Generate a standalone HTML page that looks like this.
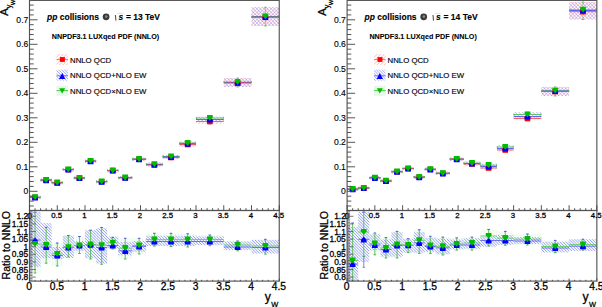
<!DOCTYPE html><html><head><meta charset="utf-8"><style>html,body{margin:0;padding:0;background:#fff;overflow:hidden}svg{display:block}text{stroke:#000;stroke-width:0.28px}text{font-family:"Liberation Sans",sans-serif}</style></head><body>
<svg width="602" height="307" viewBox="0 0 602 307">
<defs>
<pattern id="hr" patternUnits="userSpaceOnUse" width="2.5" height="2.5" patternTransform="rotate(45)"><line x1="0" y1="0" x2="0" y2="2.5" stroke="#f77" stroke-width="0.8"/></pattern>
<pattern id="hb" patternUnits="userSpaceOnUse" width="2.05" height="2.05" patternTransform="rotate(-45)"><line x1="0" y1="0" x2="0" y2="2.05" stroke="#6b6bff" stroke-width="0.9"/></pattern>
<pattern id="hb2" patternUnits="userSpaceOnUse" width="2.5" height="2.5" patternTransform="rotate(-45)"><line x1="0" y1="0" x2="0" y2="2.5" stroke="#77f" stroke-width="0.8"/></pattern>
<pattern id="hg" patternUnits="userSpaceOnUse" width="3" height="3"><rect width="3" height="3" fill="#f6fcf6"/><line x1="1.5" y1="0" x2="1.5" y2="3" stroke="#eaf7ea" stroke-width="0.8"/></pattern>
<filter id="gs"><feColorMatrix type="saturate" values="0"/></filter>
</defs>
<rect width="602" height="307" fill="#fff"/>
<g transform="translate(0,0)">
<clipPath id="ctL"><rect x="29.5" y="0.4" width="249.75" height="210.1"/></clipPath>
<clipPath id="cbL"><rect x="29.5" y="210.5" width="249.75" height="70.60000000000002"/></clipPath>
<g clip-path="url(#ctL)">
<rect x="29.5" y="195.5" width="11.1" height="4" fill="url(#hr)" />
<rect x="29.5" y="195.5" width="11.1" height="4" fill="url(#hb2)" />
<rect x="40.6" y="178.5" width="11.1" height="3.5" fill="url(#hr)" />
<rect x="40.6" y="178.5" width="11.1" height="3.5" fill="url(#hb2)" />
<rect x="51.7" y="181" width="11.1" height="3.5" fill="url(#hr)" />
<rect x="51.7" y="181" width="11.1" height="3.5" fill="url(#hb2)" />
<rect x="62.8" y="168" width="11.1" height="3.5" fill="url(#hr)" />
<rect x="62.8" y="168" width="11.1" height="3.5" fill="url(#hb2)" />
<rect x="73.9" y="176.5" width="11.1" height="3" fill="url(#hr)" />
<rect x="73.9" y="176.5" width="11.1" height="3" fill="url(#hb2)" />
<rect x="85" y="159.5" width="11.1" height="3.5" fill="url(#hr)" />
<rect x="85" y="159.5" width="11.1" height="3.5" fill="url(#hb2)" />
<rect x="96.1" y="180" width="11.1" height="3.5" fill="url(#hr)" />
<rect x="96.1" y="180" width="11.1" height="3.5" fill="url(#hb2)" />
<rect x="107.2" y="169" width="11.1" height="3.5" fill="url(#hr)" />
<rect x="107.2" y="169" width="11.1" height="3.5" fill="url(#hb2)" />
<rect x="118.3" y="176" width="13.88" height="3.5" fill="url(#hr)" />
<rect x="118.3" y="176" width="13.88" height="3.5" fill="url(#hb2)" />
<rect x="132.18" y="157.5" width="13.88" height="3.5" fill="url(#hr)" />
<rect x="132.18" y="157.5" width="13.88" height="3.5" fill="url(#hb2)" />
<rect x="146.05" y="162.5" width="16.65" height="4" fill="url(#hr)" />
<rect x="146.05" y="162.5" width="16.65" height="4" fill="url(#hb2)" />
<rect x="162.7" y="155" width="16.65" height="4" fill="url(#hr)" />
<rect x="162.7" y="155" width="16.65" height="4" fill="url(#hb2)" />
<rect x="179.35" y="141.5" width="16.65" height="5" fill="url(#hr)" />
<rect x="179.35" y="141.5" width="16.65" height="5" fill="url(#hb2)" />
<rect x="196" y="120" width="27.75" height="4" fill="url(#hr)" />
<rect x="196" y="116.5" width="27.75" height="4.5" fill="url(#hb2)" />
<rect x="223.75" y="78" width="27.75" height="9" fill="url(#hr)" />
<rect x="223.75" y="78" width="27.75" height="9" fill="url(#hb2)" />
<rect x="251.5" y="7.2" width="27.75" height="18.8" fill="url(#hr)" />
<rect x="251.5" y="7.2" width="27.75" height="18.8" fill="url(#hb2)" />
<line x1="29.5" y1="197.3" x2="40.6" y2="197.3" stroke="#4b4" stroke-width="0.8" />
<line x1="29.5" y1="197.3" x2="40.6" y2="197.3" stroke="#44e" stroke-width="0.8" />
<line x1="29.5" y1="197.3" x2="40.6" y2="197.3" stroke="#e44" stroke-width="0.8" />
<line x1="29.9" y1="196.3" x2="29.9" y2="198.3" stroke="#4b4" stroke-width="0.8" />
<line x1="40.2" y1="196.3" x2="40.2" y2="198.3" stroke="#4b4" stroke-width="0.8" />
<line x1="35.05" y1="195.5" x2="35.05" y2="199.5" stroke="#6c6" stroke-width="0.7" />
<line x1="33.85" y1="195.5" x2="36.25" y2="195.5" stroke="#4a4" stroke-width="0.7" />
<line x1="33.85" y1="199.5" x2="36.25" y2="199.5" stroke="#4a4" stroke-width="0.7" />
<rect x="32.25" y="194.7" width="5.6" height="5.4" fill="#f00" />
<polygon points="32.2,200.4 37.9,200.4 37.9,198 35.05,194.6 32.2,198" fill="#00f"/>
<polygon points="32.2,194.2 37.9,194.2 37.9,196.6 35.05,200 32.2,196.6" fill="#0b0"/>
<line x1="40.6" y1="180.1" x2="51.7" y2="180.1" stroke="#4b4" stroke-width="0.8" />
<line x1="40.6" y1="180.1" x2="51.7" y2="180.1" stroke="#44e" stroke-width="0.8" />
<line x1="40.6" y1="180.1" x2="51.7" y2="180.1" stroke="#e44" stroke-width="0.8" />
<line x1="41" y1="179.1" x2="41" y2="181.1" stroke="#4b4" stroke-width="0.8" />
<line x1="51.3" y1="179.1" x2="51.3" y2="181.1" stroke="#4b4" stroke-width="0.8" />
<line x1="46.15" y1="178.5" x2="46.15" y2="182" stroke="#6c6" stroke-width="0.7" />
<line x1="44.95" y1="178.5" x2="47.35" y2="178.5" stroke="#4a4" stroke-width="0.7" />
<line x1="44.95" y1="182" x2="47.35" y2="182" stroke="#4a4" stroke-width="0.7" />
<rect x="43.35" y="177.5" width="5.6" height="5.4" fill="#f00" />
<polygon points="43.3,183.2 49,183.2 49,180.8 46.15,177.4 43.3,180.8" fill="#00f"/>
<polygon points="43.3,177 49,177 49,179.4 46.15,182.8 43.3,179.4" fill="#0b0"/>
<line x1="51.7" y1="182.7" x2="62.8" y2="182.7" stroke="#4b4" stroke-width="0.8" />
<line x1="51.7" y1="182.7" x2="62.8" y2="182.7" stroke="#44e" stroke-width="0.8" />
<line x1="51.7" y1="182.7" x2="62.8" y2="182.7" stroke="#e44" stroke-width="0.8" />
<line x1="52.1" y1="181.7" x2="52.1" y2="183.7" stroke="#4b4" stroke-width="0.8" />
<line x1="62.4" y1="181.7" x2="62.4" y2="183.7" stroke="#4b4" stroke-width="0.8" />
<line x1="57.25" y1="181" x2="57.25" y2="184.5" stroke="#6c6" stroke-width="0.7" />
<line x1="56.05" y1="181" x2="58.45" y2="181" stroke="#4a4" stroke-width="0.7" />
<line x1="56.05" y1="184.5" x2="58.45" y2="184.5" stroke="#4a4" stroke-width="0.7" />
<rect x="54.45" y="180.1" width="5.6" height="5.4" fill="#f00" />
<polygon points="54.4,185.8 60.1,185.8 60.1,183.4 57.25,180 54.4,183.4" fill="#00f"/>
<polygon points="54.4,179.6 60.1,179.6 60.1,182 57.25,185.4 54.4,182" fill="#0b0"/>
<line x1="62.8" y1="169.5" x2="73.9" y2="169.5" stroke="#4b4" stroke-width="0.8" />
<line x1="62.8" y1="169.5" x2="73.9" y2="169.5" stroke="#44e" stroke-width="0.8" />
<line x1="62.8" y1="169.5" x2="73.9" y2="169.5" stroke="#e44" stroke-width="0.8" />
<line x1="63.2" y1="168.5" x2="63.2" y2="170.5" stroke="#4b4" stroke-width="0.8" />
<line x1="73.5" y1="168.5" x2="73.5" y2="170.5" stroke="#4b4" stroke-width="0.8" />
<line x1="68.35" y1="168" x2="68.35" y2="171.5" stroke="#6c6" stroke-width="0.7" />
<line x1="67.15" y1="168" x2="69.55" y2="168" stroke="#4a4" stroke-width="0.7" />
<line x1="67.15" y1="171.5" x2="69.55" y2="171.5" stroke="#4a4" stroke-width="0.7" />
<rect x="65.55" y="166.9" width="5.6" height="5.4" fill="#f00" />
<polygon points="65.5,172.6 71.2,172.6 71.2,170.2 68.35,166.8 65.5,170.2" fill="#00f"/>
<polygon points="65.5,166.4 71.2,166.4 71.2,168.8 68.35,172.2 65.5,168.8" fill="#0b0"/>
<line x1="73.9" y1="178" x2="85" y2="178" stroke="#4b4" stroke-width="0.8" />
<line x1="73.9" y1="178" x2="85" y2="178" stroke="#44e" stroke-width="0.8" />
<line x1="73.9" y1="178" x2="85" y2="178" stroke="#e44" stroke-width="0.8" />
<line x1="74.3" y1="177" x2="74.3" y2="179" stroke="#4b4" stroke-width="0.8" />
<line x1="84.6" y1="177" x2="84.6" y2="179" stroke="#4b4" stroke-width="0.8" />
<line x1="79.45" y1="176.5" x2="79.45" y2="179.5" stroke="#6c6" stroke-width="0.7" />
<line x1="78.25" y1="176.5" x2="80.65" y2="176.5" stroke="#4a4" stroke-width="0.7" />
<line x1="78.25" y1="179.5" x2="80.65" y2="179.5" stroke="#4a4" stroke-width="0.7" />
<rect x="76.65" y="175.4" width="5.6" height="5.4" fill="#f00" />
<polygon points="76.6,181.1 82.3,181.1 82.3,178.7 79.45,175.3 76.6,178.7" fill="#00f"/>
<polygon points="76.6,174.9 82.3,174.9 82.3,177.3 79.45,180.7 76.6,177.3" fill="#0b0"/>
<line x1="85" y1="161.1" x2="96.1" y2="161.1" stroke="#4b4" stroke-width="0.8" />
<line x1="85" y1="161.1" x2="96.1" y2="161.1" stroke="#44e" stroke-width="0.8" />
<line x1="85" y1="161.1" x2="96.1" y2="161.1" stroke="#e44" stroke-width="0.8" />
<line x1="85.4" y1="160.1" x2="85.4" y2="162.1" stroke="#4b4" stroke-width="0.8" />
<line x1="95.7" y1="160.1" x2="95.7" y2="162.1" stroke="#4b4" stroke-width="0.8" />
<line x1="90.55" y1="159.5" x2="90.55" y2="163" stroke="#6c6" stroke-width="0.7" />
<line x1="89.35" y1="159.5" x2="91.75" y2="159.5" stroke="#4a4" stroke-width="0.7" />
<line x1="89.35" y1="163" x2="91.75" y2="163" stroke="#4a4" stroke-width="0.7" />
<rect x="87.75" y="158.5" width="5.6" height="5.4" fill="#f00" />
<polygon points="87.7,164.2 93.4,164.2 93.4,161.8 90.55,158.4 87.7,161.8" fill="#00f"/>
<polygon points="87.7,158 93.4,158 93.4,160.4 90.55,163.8 87.7,160.4" fill="#0b0"/>
<line x1="96.1" y1="181.6" x2="107.2" y2="181.6" stroke="#4b4" stroke-width="0.8" />
<line x1="96.1" y1="181.6" x2="107.2" y2="181.6" stroke="#44e" stroke-width="0.8" />
<line x1="96.1" y1="181.6" x2="107.2" y2="181.6" stroke="#e44" stroke-width="0.8" />
<line x1="96.5" y1="180.6" x2="96.5" y2="182.6" stroke="#4b4" stroke-width="0.8" />
<line x1="106.8" y1="180.6" x2="106.8" y2="182.6" stroke="#4b4" stroke-width="0.8" />
<line x1="101.65" y1="180" x2="101.65" y2="183.5" stroke="#6c6" stroke-width="0.7" />
<line x1="100.45" y1="180" x2="102.85" y2="180" stroke="#4a4" stroke-width="0.7" />
<line x1="100.45" y1="183.5" x2="102.85" y2="183.5" stroke="#4a4" stroke-width="0.7" />
<rect x="98.85" y="179" width="5.6" height="5.4" fill="#f00" />
<polygon points="98.8,184.7 104.5,184.7 104.5,182.3 101.65,178.9 98.8,182.3" fill="#00f"/>
<polygon points="98.8,178.5 104.5,178.5 104.5,180.9 101.65,184.3 98.8,180.9" fill="#0b0"/>
<line x1="107.2" y1="170.5" x2="118.3" y2="170.5" stroke="#4b4" stroke-width="0.8" />
<line x1="107.2" y1="170.5" x2="118.3" y2="170.5" stroke="#44e" stroke-width="0.8" />
<line x1="107.2" y1="170.5" x2="118.3" y2="170.5" stroke="#e44" stroke-width="0.8" />
<line x1="107.6" y1="169.5" x2="107.6" y2="171.5" stroke="#4b4" stroke-width="0.8" />
<line x1="117.9" y1="169.5" x2="117.9" y2="171.5" stroke="#4b4" stroke-width="0.8" />
<line x1="112.75" y1="169" x2="112.75" y2="172.5" stroke="#6c6" stroke-width="0.7" />
<line x1="111.55" y1="169" x2="113.95" y2="169" stroke="#4a4" stroke-width="0.7" />
<line x1="111.55" y1="172.5" x2="113.95" y2="172.5" stroke="#4a4" stroke-width="0.7" />
<rect x="109.95" y="167.9" width="5.6" height="5.4" fill="#f00" />
<polygon points="109.9,173.6 115.6,173.6 115.6,171.2 112.75,167.8 109.9,171.2" fill="#00f"/>
<polygon points="109.9,167.4 115.6,167.4 115.6,169.8 112.75,173.2 109.9,169.8" fill="#0b0"/>
<line x1="118.3" y1="177.7" x2="132.18" y2="177.7" stroke="#4b4" stroke-width="0.8" />
<line x1="118.3" y1="177.7" x2="132.18" y2="177.7" stroke="#44e" stroke-width="0.8" />
<line x1="118.3" y1="177.7" x2="132.18" y2="177.7" stroke="#e44" stroke-width="0.8" />
<line x1="118.7" y1="176.7" x2="118.7" y2="178.7" stroke="#4b4" stroke-width="0.8" />
<line x1="131.78" y1="176.7" x2="131.78" y2="178.7" stroke="#4b4" stroke-width="0.8" />
<line x1="125.24" y1="176" x2="125.24" y2="179.5" stroke="#6c6" stroke-width="0.7" />
<line x1="124.04" y1="176" x2="126.44" y2="176" stroke="#4a4" stroke-width="0.7" />
<line x1="124.04" y1="179.5" x2="126.44" y2="179.5" stroke="#4a4" stroke-width="0.7" />
<rect x="122.44" y="175.1" width="5.6" height="5.4" fill="#f00" />
<polygon points="122.39,180.8 128.09,180.8 128.09,178.4 125.24,175 122.39,178.4" fill="#00f"/>
<polygon points="122.39,174.6 128.09,174.6 128.09,177 125.24,180.4 122.39,177" fill="#0b0"/>
<line x1="132.18" y1="159.2" x2="146.05" y2="159.2" stroke="#4b4" stroke-width="0.8" />
<line x1="132.18" y1="159.2" x2="146.05" y2="159.2" stroke="#44e" stroke-width="0.8" />
<line x1="132.18" y1="159.2" x2="146.05" y2="159.2" stroke="#e44" stroke-width="0.8" />
<line x1="132.58" y1="158.2" x2="132.58" y2="160.2" stroke="#4b4" stroke-width="0.8" />
<line x1="145.65" y1="158.2" x2="145.65" y2="160.2" stroke="#4b4" stroke-width="0.8" />
<line x1="139.11" y1="157.5" x2="139.11" y2="161" stroke="#6c6" stroke-width="0.7" />
<line x1="137.91" y1="157.5" x2="140.31" y2="157.5" stroke="#4a4" stroke-width="0.7" />
<line x1="137.91" y1="161" x2="140.31" y2="161" stroke="#4a4" stroke-width="0.7" />
<rect x="136.31" y="156.6" width="5.6" height="5.4" fill="#f00" />
<polygon points="136.26,162.3 141.96,162.3 141.96,159.9 139.11,156.5 136.26,159.9" fill="#00f"/>
<polygon points="136.26,156.1 141.96,156.1 141.96,158.5 139.11,161.9 136.26,158.5" fill="#0b0"/>
<line x1="146.05" y1="164.3" x2="162.7" y2="164.3" stroke="#4b4" stroke-width="0.8" />
<line x1="146.05" y1="164.5" x2="162.7" y2="164.5" stroke="#44e" stroke-width="0.8" />
<line x1="146.05" y1="165" x2="162.7" y2="165" stroke="#e44" stroke-width="0.8" />
<line x1="146.45" y1="163.3" x2="146.45" y2="165.3" stroke="#4b4" stroke-width="0.8" />
<line x1="162.3" y1="163.3" x2="162.3" y2="165.3" stroke="#4b4" stroke-width="0.8" />
<line x1="154.38" y1="162.5" x2="154.38" y2="166.5" stroke="#6c6" stroke-width="0.7" />
<line x1="153.18" y1="162.5" x2="155.57" y2="162.5" stroke="#4a4" stroke-width="0.7" />
<line x1="153.18" y1="166.5" x2="155.57" y2="166.5" stroke="#4a4" stroke-width="0.7" />
<rect x="151.57" y="162.4" width="5.6" height="5.4" fill="#f00" />
<polygon points="151.53,167.6 157.22,167.6 157.22,165.2 154.38,161.8 151.53,165.2" fill="#00f"/>
<polygon points="151.53,161.2 157.22,161.2 157.22,163.6 154.38,167 151.53,163.6" fill="#0b0"/>
<line x1="162.7" y1="156.5" x2="179.35" y2="156.5" stroke="#4b4" stroke-width="0.8" />
<line x1="162.7" y1="156.8" x2="179.35" y2="156.8" stroke="#44e" stroke-width="0.8" />
<line x1="162.7" y1="157.5" x2="179.35" y2="157.5" stroke="#e44" stroke-width="0.8" />
<line x1="163.1" y1="155.5" x2="163.1" y2="157.5" stroke="#4b4" stroke-width="0.8" />
<line x1="178.95" y1="155.5" x2="178.95" y2="157.5" stroke="#4b4" stroke-width="0.8" />
<line x1="171.03" y1="155" x2="171.03" y2="159" stroke="#6c6" stroke-width="0.7" />
<line x1="169.83" y1="155" x2="172.22" y2="155" stroke="#4a4" stroke-width="0.7" />
<line x1="169.83" y1="159" x2="172.22" y2="159" stroke="#4a4" stroke-width="0.7" />
<rect x="168.22" y="154.9" width="5.6" height="5.4" fill="#f00" />
<polygon points="168.18,159.9 173.88,159.9 173.88,157.5 171.03,154.1 168.18,157.5" fill="#00f"/>
<polygon points="168.18,153.4 173.88,153.4 173.88,155.8 171.03,159.2 168.18,155.8" fill="#0b0"/>
<line x1="179.35" y1="143.2" x2="196" y2="143.2" stroke="#4b4" stroke-width="0.8" />
<line x1="179.35" y1="143.7" x2="196" y2="143.7" stroke="#44e" stroke-width="0.8" />
<line x1="179.35" y1="144.5" x2="196" y2="144.5" stroke="#e44" stroke-width="0.8" />
<line x1="179.75" y1="142.2" x2="179.75" y2="144.2" stroke="#4b4" stroke-width="0.8" />
<line x1="195.6" y1="142.2" x2="195.6" y2="144.2" stroke="#4b4" stroke-width="0.8" />
<line x1="187.68" y1="141.5" x2="187.68" y2="146.5" stroke="#6c6" stroke-width="0.7" />
<line x1="186.48" y1="141.5" x2="188.88" y2="141.5" stroke="#4a4" stroke-width="0.7" />
<line x1="186.48" y1="146.5" x2="188.88" y2="146.5" stroke="#4a4" stroke-width="0.7" />
<rect x="184.88" y="141.9" width="5.6" height="5.4" fill="#f00" />
<polygon points="184.83,146.8 190.53,146.8 190.53,144.4 187.68,141 184.83,144.4" fill="#00f"/>
<polygon points="184.83,140.1 190.53,140.1 190.53,142.5 187.68,145.9 184.83,142.5" fill="#0b0"/>
<line x1="196" y1="118" x2="223.75" y2="118" stroke="#4b4" stroke-width="0.8" />
<line x1="196" y1="119.5" x2="223.75" y2="119.5" stroke="#44e" stroke-width="0.8" />
<line x1="196" y1="121.5" x2="223.75" y2="121.5" stroke="#e44" stroke-width="0.8" />
<line x1="196.4" y1="117" x2="196.4" y2="119" stroke="#4b4" stroke-width="0.8" />
<line x1="223.35" y1="117" x2="223.35" y2="119" stroke="#4b4" stroke-width="0.8" />
<line x1="209.88" y1="116.5" x2="209.88" y2="124" stroke="#6c6" stroke-width="0.7" />
<line x1="208.68" y1="116.5" x2="211.07" y2="116.5" stroke="#4a4" stroke-width="0.7" />
<line x1="208.68" y1="124" x2="211.07" y2="124" stroke="#4a4" stroke-width="0.7" />
<rect x="207.07" y="118.9" width="5.6" height="5.4" fill="#f00" />
<polygon points="207.03,122.6 212.72,122.6 212.72,120.2 209.88,116.8 207.03,120.2" fill="#00f"/>
<polygon points="207.03,114.9 212.72,114.9 212.72,117.3 209.88,120.7 207.03,117.3" fill="#0b0"/>
<line x1="223.75" y1="82" x2="251.5" y2="82" stroke="#4b4" stroke-width="0.8" />
<line x1="223.75" y1="82.6" x2="251.5" y2="82.6" stroke="#44e" stroke-width="0.8" />
<line x1="223.75" y1="83" x2="251.5" y2="83" stroke="#e44" stroke-width="0.8" />
<line x1="224.15" y1="81" x2="224.15" y2="83" stroke="#4b4" stroke-width="0.8" />
<line x1="251.1" y1="81" x2="251.1" y2="83" stroke="#4b4" stroke-width="0.8" />
<line x1="237.62" y1="78" x2="237.62" y2="87" stroke="#6c6" stroke-width="0.7" />
<line x1="236.43" y1="78" x2="238.82" y2="78" stroke="#4a4" stroke-width="0.7" />
<line x1="236.43" y1="87" x2="238.82" y2="87" stroke="#4a4" stroke-width="0.7" />
<rect x="234.82" y="80.4" width="5.6" height="5.4" fill="#f00" />
<polygon points="234.78,85.7 240.47,85.7 240.47,83.3 237.62,79.9 234.78,83.3" fill="#00f"/>
<polygon points="234.78,78.9 240.47,78.9 240.47,81.3 237.62,84.7 234.78,81.3" fill="#0b0"/>
<line x1="251.5" y1="16.5" x2="279.25" y2="16.5" stroke="#4b4" stroke-width="0.8" />
<line x1="251.5" y1="16.9" x2="279.25" y2="16.9" stroke="#44e" stroke-width="0.8" />
<line x1="251.5" y1="17.3" x2="279.25" y2="17.3" stroke="#e44" stroke-width="0.8" />
<line x1="251.9" y1="15.5" x2="251.9" y2="17.5" stroke="#4b4" stroke-width="0.8" />
<line x1="278.85" y1="15.5" x2="278.85" y2="17.5" stroke="#4b4" stroke-width="0.8" />
<line x1="265.38" y1="7.2" x2="265.38" y2="26" stroke="#6c6" stroke-width="0.7" />
<line x1="264.18" y1="7.2" x2="266.57" y2="7.2" stroke="#4a4" stroke-width="0.7" />
<line x1="264.18" y1="26" x2="266.57" y2="26" stroke="#4a4" stroke-width="0.7" />
<rect x="262.57" y="14.7" width="5.6" height="5.4" fill="#f00" />
<polygon points="262.52,20 268.23,20 268.23,17.6 265.38,14.2 262.52,17.6" fill="#00f"/>
<polygon points="262.52,13.4 268.23,13.4 268.23,15.8 265.38,19.2 262.52,15.8" fill="#0b0"/>
</g>
<g clip-path="url(#cbL)">
<rect x="29.5" y="212" width="11.1" height="61" fill="url(#hg)" />
<rect x="29.5" y="212" width="11.1" height="54.9" fill="url(#hb)" />
<rect x="40.6" y="227.3" width="11.1" height="35.9" fill="url(#hg)" />
<rect x="40.6" y="223" width="11.1" height="35.2" fill="url(#hb)" />
<rect x="51.7" y="243" width="11.1" height="23" fill="url(#hg)" />
<rect x="51.7" y="247" width="11.1" height="12" fill="url(#hb)" />
<rect x="62.8" y="235.6" width="11.1" height="21.4" fill="url(#hg)" />
<rect x="62.8" y="235.6" width="11.1" height="22.4" fill="url(#hb)" />
<rect x="73.9" y="236.5" width="11.1" height="17" fill="url(#hg)" />
<rect x="73.9" y="241" width="11.1" height="9.8" fill="url(#hb)" />
<rect x="85" y="230.2" width="11.1" height="28.8" fill="url(#hg)" />
<rect x="85" y="230.2" width="11.1" height="27.8" fill="url(#hb)" />
<rect x="96.1" y="227.5" width="11.1" height="36.8" fill="url(#hg)" />
<rect x="96.1" y="228.4" width="11.1" height="35" fill="url(#hb)" />
<rect x="107.2" y="237.4" width="11.1" height="11.6" fill="url(#hg)" />
<rect x="107.2" y="236.5" width="11.1" height="11.7" fill="url(#hb)" />
<rect x="118.3" y="238.3" width="13.88" height="20.7" fill="url(#hg)" />
<rect x="118.3" y="241.9" width="13.88" height="13.4" fill="url(#hb)" />
<rect x="132.18" y="238.3" width="13.88" height="15.7" fill="url(#hg)" />
<rect x="132.18" y="241" width="13.88" height="10.7" fill="url(#hb)" />
<rect x="146.05" y="233.3" width="16.65" height="12.7" fill="url(#hg)" />
<rect x="146.05" y="235.8" width="16.65" height="10.2" fill="url(#hb)" />
<rect x="162.7" y="233.3" width="16.65" height="13.2" fill="url(#hg)" />
<rect x="162.7" y="235.8" width="16.65" height="10.2" fill="url(#hb)" />
<rect x="179.35" y="233.8" width="16.65" height="13.2" fill="url(#hg)" />
<rect x="179.35" y="235.8" width="16.65" height="10.2" fill="url(#hb)" />
<rect x="196" y="235" width="27.75" height="10.7" fill="url(#hg)" />
<rect x="196" y="236.5" width="27.75" height="8.5" fill="url(#hb)" />
<rect x="223.75" y="241" width="27.75" height="9.8" fill="url(#hg)" />
<rect x="223.75" y="241.4" width="27.75" height="8.5" fill="url(#hb)" />
<rect x="251.5" y="239.3" width="27.75" height="14.8" fill="url(#hg)" />
<rect x="251.5" y="240" width="27.75" height="13.4" fill="url(#hb)" />
<line x1="29.5" y1="240" x2="40.6" y2="240" stroke="#55e" stroke-width="0.8" />
<line x1="29.5" y1="244" x2="40.6" y2="244" stroke="#5c5" stroke-width="0.8" />
<line x1="35.05" y1="212" x2="35.05" y2="273" stroke="#5b5" stroke-width="0.9" />
<line x1="33.75" y1="212" x2="36.35" y2="212" stroke="#44c" stroke-width="0.9" />
<line x1="33.75" y1="273" x2="36.35" y2="273" stroke="#4a4" stroke-width="0.9" />
<polygon points="32.2,243.1 37.9,243.1 37.9,240.7 35.05,237.3 32.2,240.7" fill="#00f"/>
<polygon points="32.2,240.9 37.9,240.9 37.9,243.3 35.05,246.7 32.2,243.3" fill="#0b0"/>
<line x1="40.6" y1="247" x2="51.7" y2="247" stroke="#55e" stroke-width="0.8" />
<line x1="40.6" y1="245" x2="51.7" y2="245" stroke="#5c5" stroke-width="0.8" />
<line x1="46.15" y1="227.3" x2="46.15" y2="263.2" stroke="#5b5" stroke-width="0.9" />
<line x1="44.85" y1="227.3" x2="47.45" y2="227.3" stroke="#44c" stroke-width="0.9" />
<line x1="44.85" y1="263.2" x2="47.45" y2="263.2" stroke="#4a4" stroke-width="0.9" />
<polygon points="43.3,250.1 49,250.1 49,247.7 46.15,244.3 43.3,247.7" fill="#00f"/>
<polygon points="43.3,241.9 49,241.9 49,244.3 46.15,247.7 43.3,244.3" fill="#0b0"/>
<line x1="51.7" y1="255.5" x2="62.8" y2="255.5" stroke="#55e" stroke-width="0.8" />
<line x1="51.7" y1="254" x2="62.8" y2="254" stroke="#5c5" stroke-width="0.8" />
<line x1="57.25" y1="243" x2="57.25" y2="266" stroke="#5b5" stroke-width="0.9" />
<line x1="55.95" y1="243" x2="58.55" y2="243" stroke="#44c" stroke-width="0.9" />
<line x1="55.95" y1="266" x2="58.55" y2="266" stroke="#4a4" stroke-width="0.9" />
<polygon points="54.4,258.6 60.1,258.6 60.1,256.2 57.25,252.8 54.4,256.2" fill="#00f"/>
<polygon points="54.4,250.9 60.1,250.9 60.1,253.3 57.25,256.7 54.4,253.3" fill="#0b0"/>
<line x1="62.8" y1="247.3" x2="73.9" y2="247.3" stroke="#55e" stroke-width="0.8" />
<line x1="62.8" y1="247.3" x2="73.9" y2="247.3" stroke="#5c5" stroke-width="0.8" />
<line x1="68.35" y1="235.6" x2="68.35" y2="257" stroke="#5b5" stroke-width="0.9" />
<line x1="67.05" y1="235.6" x2="69.65" y2="235.6" stroke="#44c" stroke-width="0.9" />
<line x1="67.05" y1="257" x2="69.65" y2="257" stroke="#4a4" stroke-width="0.9" />
<polygon points="65.5,250.4 71.2,250.4 71.2,248 68.35,244.6 65.5,248" fill="#00f"/>
<polygon points="65.5,244.2 71.2,244.2 71.2,246.6 68.35,250 65.5,246.6" fill="#0b0"/>
<line x1="73.9" y1="245.5" x2="85" y2="245.5" stroke="#55e" stroke-width="0.8" />
<line x1="73.9" y1="245.5" x2="85" y2="245.5" stroke="#5c5" stroke-width="0.8" />
<line x1="79.45" y1="236.5" x2="79.45" y2="253.5" stroke="#5b5" stroke-width="0.9" />
<line x1="78.15" y1="236.5" x2="80.75" y2="236.5" stroke="#44c" stroke-width="0.9" />
<line x1="78.15" y1="253.5" x2="80.75" y2="253.5" stroke="#4a4" stroke-width="0.9" />
<polygon points="76.6,248.6 82.3,248.6 82.3,246.2 79.45,242.8 76.6,246.2" fill="#00f"/>
<polygon points="76.6,242.4 82.3,242.4 82.3,244.8 79.45,248.2 76.6,244.8" fill="#0b0"/>
<line x1="85" y1="244.6" x2="96.1" y2="244.6" stroke="#55e" stroke-width="0.8" />
<line x1="85" y1="244.6" x2="96.1" y2="244.6" stroke="#5c5" stroke-width="0.8" />
<line x1="90.55" y1="230.2" x2="90.55" y2="259" stroke="#5b5" stroke-width="0.9" />
<line x1="89.25" y1="230.2" x2="91.85" y2="230.2" stroke="#44c" stroke-width="0.9" />
<line x1="89.25" y1="259" x2="91.85" y2="259" stroke="#4a4" stroke-width="0.9" />
<polygon points="87.7,247.7 93.4,247.7 93.4,245.3 90.55,241.9 87.7,245.3" fill="#00f"/>
<polygon points="87.7,241.5 93.4,241.5 93.4,243.9 90.55,247.3 87.7,243.9" fill="#0b0"/>
<line x1="96.1" y1="247.5" x2="107.2" y2="247.5" stroke="#55e" stroke-width="0.8" />
<line x1="96.1" y1="245.3" x2="107.2" y2="245.3" stroke="#5c5" stroke-width="0.8" />
<line x1="101.65" y1="227.5" x2="101.65" y2="264.3" stroke="#5b5" stroke-width="0.9" />
<line x1="100.35" y1="227.5" x2="102.95" y2="227.5" stroke="#44c" stroke-width="0.9" />
<line x1="100.35" y1="264.3" x2="102.95" y2="264.3" stroke="#4a4" stroke-width="0.9" />
<polygon points="98.8,250.6 104.5,250.6 104.5,248.2 101.65,244.8 98.8,248.2" fill="#00f"/>
<polygon points="98.8,242.2 104.5,242.2 104.5,244.6 101.65,248 98.8,244.6" fill="#0b0"/>
<line x1="107.2" y1="245.5" x2="118.3" y2="245.5" stroke="#55e" stroke-width="0.8" />
<line x1="107.2" y1="242.8" x2="118.3" y2="242.8" stroke="#5c5" stroke-width="0.8" />
<line x1="112.75" y1="237.4" x2="112.75" y2="249" stroke="#5b5" stroke-width="0.9" />
<line x1="111.45" y1="237.4" x2="114.05" y2="237.4" stroke="#44c" stroke-width="0.9" />
<line x1="111.45" y1="249" x2="114.05" y2="249" stroke="#4a4" stroke-width="0.9" />
<polygon points="109.9,248.6 115.6,248.6 115.6,246.2 112.75,242.8 109.9,246.2" fill="#00f"/>
<polygon points="109.9,239.7 115.6,239.7 115.6,242.1 112.75,245.5 109.9,242.1" fill="#0b0"/>
<line x1="118.3" y1="250.8" x2="132.18" y2="250.8" stroke="#55e" stroke-width="0.8" />
<line x1="118.3" y1="248.2" x2="132.18" y2="248.2" stroke="#5c5" stroke-width="0.8" />
<line x1="125.24" y1="238.3" x2="125.24" y2="259" stroke="#5b5" stroke-width="0.9" />
<line x1="123.94" y1="238.3" x2="126.54" y2="238.3" stroke="#44c" stroke-width="0.9" />
<line x1="123.94" y1="259" x2="126.54" y2="259" stroke="#4a4" stroke-width="0.9" />
<polygon points="122.39,253.9 128.09,253.9 128.09,251.5 125.24,248.1 122.39,251.5" fill="#00f"/>
<polygon points="122.39,245.1 128.09,245.1 128.09,247.5 125.24,250.9 122.39,247.5" fill="#0b0"/>
<line x1="132.18" y1="246.4" x2="146.05" y2="246.4" stroke="#55e" stroke-width="0.8" />
<line x1="132.18" y1="245.5" x2="146.05" y2="245.5" stroke="#5c5" stroke-width="0.8" />
<line x1="139.11" y1="238.3" x2="139.11" y2="254" stroke="#5b5" stroke-width="0.9" />
<line x1="137.81" y1="238.3" x2="140.41" y2="238.3" stroke="#44c" stroke-width="0.9" />
<line x1="137.81" y1="254" x2="140.41" y2="254" stroke="#4a4" stroke-width="0.9" />
<polygon points="136.26,249.5 141.96,249.5 141.96,247.1 139.11,243.7 136.26,247.1" fill="#00f"/>
<polygon points="136.26,242.4 141.96,242.4 141.96,244.8 139.11,248.2 136.26,244.8" fill="#0b0"/>
<line x1="146.05" y1="241.5" x2="162.7" y2="241.5" stroke="#55e" stroke-width="0.8" />
<line x1="146.05" y1="239.6" x2="162.7" y2="239.6" stroke="#5c5" stroke-width="0.8" />
<line x1="154.38" y1="233.3" x2="154.38" y2="246" stroke="#5b5" stroke-width="0.9" />
<line x1="153.07" y1="233.3" x2="155.68" y2="233.3" stroke="#44c" stroke-width="0.9" />
<line x1="153.07" y1="246" x2="155.68" y2="246" stroke="#4a4" stroke-width="0.9" />
<polygon points="151.53,244.6 157.22,244.6 157.22,242.2 154.38,238.8 151.53,242.2" fill="#00f"/>
<polygon points="151.53,236.5 157.22,236.5 157.22,238.9 154.38,242.3 151.53,238.9" fill="#0b0"/>
<line x1="162.7" y1="241.5" x2="179.35" y2="241.5" stroke="#55e" stroke-width="0.8" />
<line x1="162.7" y1="239.6" x2="179.35" y2="239.6" stroke="#5c5" stroke-width="0.8" />
<line x1="171.03" y1="233.3" x2="171.03" y2="246.5" stroke="#5b5" stroke-width="0.9" />
<line x1="169.72" y1="233.3" x2="172.33" y2="233.3" stroke="#44c" stroke-width="0.9" />
<line x1="169.72" y1="246.5" x2="172.33" y2="246.5" stroke="#4a4" stroke-width="0.9" />
<polygon points="168.18,244.6 173.88,244.6 173.88,242.2 171.03,238.8 168.18,242.2" fill="#00f"/>
<polygon points="168.18,236.5 173.88,236.5 173.88,238.9 171.03,242.3 168.18,238.9" fill="#0b0"/>
<line x1="179.35" y1="241.5" x2="196" y2="241.5" stroke="#55e" stroke-width="0.8" />
<line x1="179.35" y1="239.6" x2="196" y2="239.6" stroke="#5c5" stroke-width="0.8" />
<line x1="187.68" y1="233.8" x2="187.68" y2="247" stroke="#5b5" stroke-width="0.9" />
<line x1="186.38" y1="233.8" x2="188.98" y2="233.8" stroke="#44c" stroke-width="0.9" />
<line x1="186.38" y1="247" x2="188.98" y2="247" stroke="#4a4" stroke-width="0.9" />
<polygon points="184.83,244.6 190.53,244.6 190.53,242.2 187.68,238.8 184.83,242.2" fill="#00f"/>
<polygon points="184.83,236.5 190.53,236.5 190.53,238.9 187.68,242.3 184.83,238.9" fill="#0b0"/>
<line x1="196" y1="241.5" x2="223.75" y2="241.5" stroke="#55e" stroke-width="0.8" />
<line x1="196" y1="239.5" x2="223.75" y2="239.5" stroke="#5c5" stroke-width="0.8" />
<line x1="209.88" y1="235" x2="209.88" y2="245.7" stroke="#5b5" stroke-width="0.9" />
<line x1="208.57" y1="235" x2="211.18" y2="235" stroke="#44c" stroke-width="0.9" />
<line x1="208.57" y1="245.7" x2="211.18" y2="245.7" stroke="#4a4" stroke-width="0.9" />
<polygon points="207.03,244.6 212.72,244.6 212.72,242.2 209.88,238.8 207.03,242.2" fill="#00f"/>
<polygon points="207.03,236.4 212.72,236.4 212.72,238.8 209.88,242.2 207.03,238.8" fill="#0b0"/>
<line x1="223.75" y1="247" x2="251.5" y2="247" stroke="#55e" stroke-width="0.8" />
<line x1="223.75" y1="245" x2="251.5" y2="245" stroke="#5c5" stroke-width="0.8" />
<line x1="237.62" y1="241" x2="237.62" y2="250.8" stroke="#5b5" stroke-width="0.9" />
<line x1="236.32" y1="241" x2="238.93" y2="241" stroke="#44c" stroke-width="0.9" />
<line x1="236.32" y1="250.8" x2="238.93" y2="250.8" stroke="#4a4" stroke-width="0.9" />
<polygon points="234.78,250.1 240.47,250.1 240.47,247.7 237.62,244.3 234.78,247.7" fill="#00f"/>
<polygon points="234.78,241.9 240.47,241.9 240.47,244.3 237.62,247.7 234.78,244.3" fill="#0b0"/>
<line x1="251.5" y1="247.5" x2="279.25" y2="247.5" stroke="#55e" stroke-width="0.8" />
<line x1="251.5" y1="246" x2="279.25" y2="246" stroke="#5c5" stroke-width="0.8" />
<line x1="265.38" y1="239.3" x2="265.38" y2="254.1" stroke="#5b5" stroke-width="0.9" />
<line x1="264.07" y1="239.3" x2="266.68" y2="239.3" stroke="#44c" stroke-width="0.9" />
<line x1="264.07" y1="254.1" x2="266.68" y2="254.1" stroke="#4a4" stroke-width="0.9" />
<polygon points="262.52,250.6 268.23,250.6 268.23,248.2 265.38,244.8 262.52,248.2" fill="#00f"/>
<polygon points="262.52,242.9 268.23,242.9 268.23,245.3 265.38,248.7 262.52,245.3" fill="#0b0"/>
</g>
<rect x="29.5" y="0.4" width="249.75" height="210.1" fill="none" stroke="#555" stroke-width="1.15"/>
<rect x="29.5" y="210.5" width="249.75" height="70.6" fill="none" stroke="#555" stroke-width="1.15"/>
<line x1="29.5" y1="206" x2="33.7" y2="206" stroke="#444" stroke-width="0.9" />
<line x1="29.5" y1="201.1" x2="33.7" y2="201.1" stroke="#444" stroke-width="0.9" />
<line x1="29.5" y1="196.2" x2="33.7" y2="196.2" stroke="#444" stroke-width="0.9" />
<line x1="29.5" y1="191.3" x2="37.5" y2="191.3" stroke="#444" stroke-width="0.9" />
<line x1="29.5" y1="186.4" x2="33.7" y2="186.4" stroke="#444" stroke-width="0.9" />
<line x1="29.5" y1="181.5" x2="33.7" y2="181.5" stroke="#444" stroke-width="0.9" />
<line x1="29.5" y1="176.6" x2="33.7" y2="176.6" stroke="#444" stroke-width="0.9" />
<line x1="29.5" y1="171.7" x2="33.7" y2="171.7" stroke="#444" stroke-width="0.9" />
<line x1="29.5" y1="166.8" x2="37.5" y2="166.8" stroke="#444" stroke-width="0.9" />
<line x1="29.5" y1="161.9" x2="33.7" y2="161.9" stroke="#444" stroke-width="0.9" />
<line x1="29.5" y1="157" x2="33.7" y2="157" stroke="#444" stroke-width="0.9" />
<line x1="29.5" y1="152.1" x2="33.7" y2="152.1" stroke="#444" stroke-width="0.9" />
<line x1="29.5" y1="147.2" x2="33.7" y2="147.2" stroke="#444" stroke-width="0.9" />
<line x1="29.5" y1="142.3" x2="37.5" y2="142.3" stroke="#444" stroke-width="0.9" />
<line x1="29.5" y1="137.4" x2="33.7" y2="137.4" stroke="#444" stroke-width="0.9" />
<line x1="29.5" y1="132.5" x2="33.7" y2="132.5" stroke="#444" stroke-width="0.9" />
<line x1="29.5" y1="127.6" x2="33.7" y2="127.6" stroke="#444" stroke-width="0.9" />
<line x1="29.5" y1="122.7" x2="33.7" y2="122.7" stroke="#444" stroke-width="0.9" />
<line x1="29.5" y1="117.8" x2="37.5" y2="117.8" stroke="#444" stroke-width="0.9" />
<line x1="29.5" y1="112.9" x2="33.7" y2="112.9" stroke="#444" stroke-width="0.9" />
<line x1="29.5" y1="108" x2="33.7" y2="108" stroke="#444" stroke-width="0.9" />
<line x1="29.5" y1="103.1" x2="33.7" y2="103.1" stroke="#444" stroke-width="0.9" />
<line x1="29.5" y1="98.2" x2="33.7" y2="98.2" stroke="#444" stroke-width="0.9" />
<line x1="29.5" y1="93.3" x2="37.5" y2="93.3" stroke="#444" stroke-width="0.9" />
<line x1="29.5" y1="88.4" x2="33.7" y2="88.4" stroke="#444" stroke-width="0.9" />
<line x1="29.5" y1="83.5" x2="33.7" y2="83.5" stroke="#444" stroke-width="0.9" />
<line x1="29.5" y1="78.6" x2="33.7" y2="78.6" stroke="#444" stroke-width="0.9" />
<line x1="29.5" y1="73.7" x2="33.7" y2="73.7" stroke="#444" stroke-width="0.9" />
<line x1="29.5" y1="68.8" x2="37.5" y2="68.8" stroke="#444" stroke-width="0.9" />
<line x1="29.5" y1="63.9" x2="33.7" y2="63.9" stroke="#444" stroke-width="0.9" />
<line x1="29.5" y1="59" x2="33.7" y2="59" stroke="#444" stroke-width="0.9" />
<line x1="29.5" y1="54.1" x2="33.7" y2="54.1" stroke="#444" stroke-width="0.9" />
<line x1="29.5" y1="49.2" x2="33.7" y2="49.2" stroke="#444" stroke-width="0.9" />
<line x1="29.5" y1="44.3" x2="37.5" y2="44.3" stroke="#444" stroke-width="0.9" />
<line x1="29.5" y1="39.4" x2="33.7" y2="39.4" stroke="#444" stroke-width="0.9" />
<line x1="29.5" y1="34.5" x2="33.7" y2="34.5" stroke="#444" stroke-width="0.9" />
<line x1="29.5" y1="29.6" x2="33.7" y2="29.6" stroke="#444" stroke-width="0.9" />
<line x1="29.5" y1="24.7" x2="33.7" y2="24.7" stroke="#444" stroke-width="0.9" />
<line x1="29.5" y1="19.8" x2="37.5" y2="19.8" stroke="#444" stroke-width="0.9" />
<line x1="29.5" y1="14.9" x2="33.7" y2="14.9" stroke="#444" stroke-width="0.9" />
<line x1="29.5" y1="10" x2="33.7" y2="10" stroke="#444" stroke-width="0.9" />
<line x1="29.5" y1="5.1" x2="33.7" y2="5.1" stroke="#444" stroke-width="0.9" />
<text transform="translate(28.3,194.4) scale(1,1.08)" font-size="8.6" text-anchor="end" style="stroke-width:0.12px">0</text>
<text transform="translate(28.3,169.9) scale(1,1.08)" font-size="8.6" text-anchor="end" style="stroke-width:0.12px">0.1</text>
<text transform="translate(28.3,145.4) scale(1,1.08)" font-size="8.6" text-anchor="end" style="stroke-width:0.12px">0.2</text>
<text transform="translate(28.3,120.9) scale(1,1.08)" font-size="8.6" text-anchor="end" style="stroke-width:0.12px">0.3</text>
<text transform="translate(28.3,96.4) scale(1,1.08)" font-size="8.6" text-anchor="end" style="stroke-width:0.12px">0.4</text>
<text transform="translate(28.3,71.9) scale(1,1.08)" font-size="8.6" text-anchor="end" style="stroke-width:0.12px">0.5</text>
<text transform="translate(28.3,47.4) scale(1,1.08)" font-size="8.6" text-anchor="end" style="stroke-width:0.12px">0.6</text>
<text transform="translate(28.3,22.9) scale(1,1.08)" font-size="8.6" text-anchor="end" style="stroke-width:0.12px">0.7</text>
<line x1="29.5" y1="210.5" x2="29.5" y2="205.2" stroke="#444" stroke-width="0.9" />
<line x1="35.05" y1="210.5" x2="35.05" y2="208.2" stroke="#444" stroke-width="0.9" />
<line x1="40.6" y1="210.5" x2="40.6" y2="208.2" stroke="#444" stroke-width="0.9" />
<line x1="46.15" y1="210.5" x2="46.15" y2="208.2" stroke="#444" stroke-width="0.9" />
<line x1="51.7" y1="210.5" x2="51.7" y2="208.2" stroke="#444" stroke-width="0.9" />
<line x1="57.25" y1="210.5" x2="57.25" y2="205.2" stroke="#444" stroke-width="0.9" />
<line x1="62.8" y1="210.5" x2="62.8" y2="208.2" stroke="#444" stroke-width="0.9" />
<line x1="68.35" y1="210.5" x2="68.35" y2="208.2" stroke="#444" stroke-width="0.9" />
<line x1="73.9" y1="210.5" x2="73.9" y2="208.2" stroke="#444" stroke-width="0.9" />
<line x1="79.45" y1="210.5" x2="79.45" y2="208.2" stroke="#444" stroke-width="0.9" />
<line x1="85" y1="210.5" x2="85" y2="205.2" stroke="#444" stroke-width="0.9" />
<line x1="90.55" y1="210.5" x2="90.55" y2="208.2" stroke="#444" stroke-width="0.9" />
<line x1="96.1" y1="210.5" x2="96.1" y2="208.2" stroke="#444" stroke-width="0.9" />
<line x1="101.65" y1="210.5" x2="101.65" y2="208.2" stroke="#444" stroke-width="0.9" />
<line x1="107.2" y1="210.5" x2="107.2" y2="208.2" stroke="#444" stroke-width="0.9" />
<line x1="112.75" y1="210.5" x2="112.75" y2="205.2" stroke="#444" stroke-width="0.9" />
<line x1="118.3" y1="210.5" x2="118.3" y2="208.2" stroke="#444" stroke-width="0.9" />
<line x1="123.85" y1="210.5" x2="123.85" y2="208.2" stroke="#444" stroke-width="0.9" />
<line x1="129.4" y1="210.5" x2="129.4" y2="208.2" stroke="#444" stroke-width="0.9" />
<line x1="134.95" y1="210.5" x2="134.95" y2="208.2" stroke="#444" stroke-width="0.9" />
<line x1="140.5" y1="210.5" x2="140.5" y2="205.2" stroke="#444" stroke-width="0.9" />
<line x1="146.05" y1="210.5" x2="146.05" y2="208.2" stroke="#444" stroke-width="0.9" />
<line x1="151.6" y1="210.5" x2="151.6" y2="208.2" stroke="#444" stroke-width="0.9" />
<line x1="157.15" y1="210.5" x2="157.15" y2="208.2" stroke="#444" stroke-width="0.9" />
<line x1="162.7" y1="210.5" x2="162.7" y2="208.2" stroke="#444" stroke-width="0.9" />
<line x1="168.25" y1="210.5" x2="168.25" y2="205.2" stroke="#444" stroke-width="0.9" />
<line x1="173.8" y1="210.5" x2="173.8" y2="208.2" stroke="#444" stroke-width="0.9" />
<line x1="179.35" y1="210.5" x2="179.35" y2="208.2" stroke="#444" stroke-width="0.9" />
<line x1="184.9" y1="210.5" x2="184.9" y2="208.2" stroke="#444" stroke-width="0.9" />
<line x1="190.45" y1="210.5" x2="190.45" y2="208.2" stroke="#444" stroke-width="0.9" />
<line x1="196" y1="210.5" x2="196" y2="205.2" stroke="#444" stroke-width="0.9" />
<line x1="201.55" y1="210.5" x2="201.55" y2="208.2" stroke="#444" stroke-width="0.9" />
<line x1="207.1" y1="210.5" x2="207.1" y2="208.2" stroke="#444" stroke-width="0.9" />
<line x1="212.65" y1="210.5" x2="212.65" y2="208.2" stroke="#444" stroke-width="0.9" />
<line x1="218.2" y1="210.5" x2="218.2" y2="208.2" stroke="#444" stroke-width="0.9" />
<line x1="223.75" y1="210.5" x2="223.75" y2="205.2" stroke="#444" stroke-width="0.9" />
<line x1="229.3" y1="210.5" x2="229.3" y2="208.2" stroke="#444" stroke-width="0.9" />
<line x1="234.85" y1="210.5" x2="234.85" y2="208.2" stroke="#444" stroke-width="0.9" />
<line x1="240.4" y1="210.5" x2="240.4" y2="208.2" stroke="#444" stroke-width="0.9" />
<line x1="245.95" y1="210.5" x2="245.95" y2="208.2" stroke="#444" stroke-width="0.9" />
<line x1="251.5" y1="210.5" x2="251.5" y2="205.2" stroke="#444" stroke-width="0.9" />
<line x1="257.05" y1="210.5" x2="257.05" y2="208.2" stroke="#444" stroke-width="0.9" />
<line x1="262.6" y1="210.5" x2="262.6" y2="208.2" stroke="#444" stroke-width="0.9" />
<line x1="268.15" y1="210.5" x2="268.15" y2="208.2" stroke="#444" stroke-width="0.9" />
<line x1="273.7" y1="210.5" x2="273.7" y2="208.2" stroke="#444" stroke-width="0.9" />
<line x1="279.25" y1="210.5" x2="279.25" y2="205.2" stroke="#444" stroke-width="0.9" />
<text x="56.65" y="218.1" font-size="7.8" text-anchor="middle" font-weight="normal" font-style="normal" fill="#000" >0.5</text>
<text x="84.4" y="218.1" font-size="7.8" text-anchor="middle" font-weight="normal" font-style="normal" fill="#000" >1</text>
<text x="112.15" y="218.1" font-size="7.8" text-anchor="middle" font-weight="normal" font-style="normal" fill="#000" >1.5</text>
<text x="139.9" y="218.1" font-size="7.8" text-anchor="middle" font-weight="normal" font-style="normal" fill="#000" >2</text>
<text x="167.65" y="218.1" font-size="7.8" text-anchor="middle" font-weight="normal" font-style="normal" fill="#000" >2.5</text>
<text x="195.4" y="218.1" font-size="7.8" text-anchor="middle" font-weight="normal" font-style="normal" fill="#000" >3</text>
<text x="223.15" y="218.1" font-size="7.8" text-anchor="middle" font-weight="normal" font-style="normal" fill="#000" >3.5</text>
<text x="250.9" y="218.1" font-size="7.8" text-anchor="middle" font-weight="normal" font-style="normal" fill="#000" >4</text>
<text x="278.65" y="218.1" font-size="7.8" text-anchor="middle" font-weight="normal" font-style="normal" fill="#000" >4.5</text>
<text x="29.6" y="218.6" font-size="8.6" text-anchor="middle" font-weight="normal" font-style="normal" fill="#000" >0</text>
<line x1="29.5" y1="280.14" x2="32.5" y2="280.14" stroke="#555" stroke-width="0.8" />
<line x1="29.5" y1="278.62" x2="32.5" y2="278.62" stroke="#555" stroke-width="0.8" />
<line x1="29.5" y1="277.1" x2="35.8" y2="277.1" stroke="#555" stroke-width="0.8" />
<line x1="29.5" y1="275.58" x2="32.5" y2="275.58" stroke="#555" stroke-width="0.8" />
<line x1="29.5" y1="274.06" x2="32.5" y2="274.06" stroke="#555" stroke-width="0.8" />
<line x1="29.5" y1="272.54" x2="32.5" y2="272.54" stroke="#555" stroke-width="0.8" />
<line x1="29.5" y1="271.02" x2="32.5" y2="271.02" stroke="#555" stroke-width="0.8" />
<line x1="29.5" y1="269.5" x2="35.8" y2="269.5" stroke="#555" stroke-width="0.8" />
<line x1="29.5" y1="267.98" x2="32.5" y2="267.98" stroke="#555" stroke-width="0.8" />
<line x1="29.5" y1="266.46" x2="32.5" y2="266.46" stroke="#555" stroke-width="0.8" />
<line x1="29.5" y1="264.94" x2="32.5" y2="264.94" stroke="#555" stroke-width="0.8" />
<line x1="29.5" y1="263.42" x2="32.5" y2="263.42" stroke="#555" stroke-width="0.8" />
<line x1="29.5" y1="261.9" x2="35.8" y2="261.9" stroke="#555" stroke-width="0.8" />
<line x1="29.5" y1="260.38" x2="32.5" y2="260.38" stroke="#555" stroke-width="0.8" />
<line x1="29.5" y1="258.86" x2="32.5" y2="258.86" stroke="#555" stroke-width="0.8" />
<line x1="29.5" y1="257.34" x2="32.5" y2="257.34" stroke="#555" stroke-width="0.8" />
<line x1="29.5" y1="255.82" x2="32.5" y2="255.82" stroke="#555" stroke-width="0.8" />
<line x1="29.5" y1="254.3" x2="35.8" y2="254.3" stroke="#555" stroke-width="0.8" />
<line x1="29.5" y1="252.78" x2="32.5" y2="252.78" stroke="#555" stroke-width="0.8" />
<line x1="29.5" y1="251.26" x2="32.5" y2="251.26" stroke="#555" stroke-width="0.8" />
<line x1="29.5" y1="249.74" x2="32.5" y2="249.74" stroke="#555" stroke-width="0.8" />
<line x1="29.5" y1="248.22" x2="32.5" y2="248.22" stroke="#555" stroke-width="0.8" />
<line x1="29.5" y1="246.7" x2="35.8" y2="246.7" stroke="#555" stroke-width="0.8" />
<line x1="29.5" y1="245.18" x2="32.5" y2="245.18" stroke="#555" stroke-width="0.8" />
<line x1="29.5" y1="243.66" x2="32.5" y2="243.66" stroke="#555" stroke-width="0.8" />
<line x1="29.5" y1="242.14" x2="32.5" y2="242.14" stroke="#555" stroke-width="0.8" />
<line x1="29.5" y1="240.62" x2="32.5" y2="240.62" stroke="#555" stroke-width="0.8" />
<line x1="29.5" y1="239.1" x2="35.8" y2="239.1" stroke="#555" stroke-width="0.8" />
<line x1="29.5" y1="237.58" x2="32.5" y2="237.58" stroke="#555" stroke-width="0.8" />
<line x1="29.5" y1="236.06" x2="32.5" y2="236.06" stroke="#555" stroke-width="0.8" />
<line x1="29.5" y1="234.54" x2="32.5" y2="234.54" stroke="#555" stroke-width="0.8" />
<line x1="29.5" y1="233.02" x2="32.5" y2="233.02" stroke="#555" stroke-width="0.8" />
<line x1="29.5" y1="231.5" x2="35.8" y2="231.5" stroke="#555" stroke-width="0.8" />
<line x1="29.5" y1="229.98" x2="32.5" y2="229.98" stroke="#555" stroke-width="0.8" />
<line x1="29.5" y1="228.46" x2="32.5" y2="228.46" stroke="#555" stroke-width="0.8" />
<line x1="29.5" y1="226.94" x2="32.5" y2="226.94" stroke="#555" stroke-width="0.8" />
<line x1="29.5" y1="225.42" x2="32.5" y2="225.42" stroke="#555" stroke-width="0.8" />
<line x1="29.5" y1="223.9" x2="35.8" y2="223.9" stroke="#555" stroke-width="0.8" />
<line x1="29.5" y1="222.38" x2="32.5" y2="222.38" stroke="#555" stroke-width="0.8" />
<line x1="29.5" y1="220.86" x2="32.5" y2="220.86" stroke="#555" stroke-width="0.8" />
<line x1="29.5" y1="219.34" x2="32.5" y2="219.34" stroke="#555" stroke-width="0.8" />
<line x1="29.5" y1="217.82" x2="32.5" y2="217.82" stroke="#555" stroke-width="0.8" />
<line x1="29.5" y1="216.3" x2="35.8" y2="216.3" stroke="#555" stroke-width="0.8" />
<line x1="29.5" y1="214.78" x2="32.5" y2="214.78" stroke="#555" stroke-width="0.8" />
<line x1="29.5" y1="213.26" x2="32.5" y2="213.26" stroke="#555" stroke-width="0.8" />
<line x1="29.5" y1="211.74" x2="32.5" y2="211.74" stroke="#555" stroke-width="0.8" />
<text transform="translate(28.2,219.4) scale(1,1.13)" font-size="8.4" text-anchor="end">1.2</text>
<text transform="translate(28.2,227) scale(1,1.13)" font-size="8.4" text-anchor="end">1.15</text>
<text transform="translate(28.2,234.6) scale(1,1.13)" font-size="8.4" text-anchor="end">1.1</text>
<text transform="translate(28.2,242.2) scale(1,1.13)" font-size="8.4" text-anchor="end">1.05</text>
<text transform="translate(28.2,249.8) scale(1,1.13)" font-size="8.4" text-anchor="end">1</text>
<text transform="translate(28.2,257.4) scale(1,1.13)" font-size="8.4" text-anchor="end">0.95</text>
<text transform="translate(28.2,265) scale(1,1.13)" font-size="8.4" text-anchor="end">0.9</text>
<text transform="translate(28.2,272.6) scale(1,1.13)" font-size="8.4" text-anchor="end">0.85</text>
<text transform="translate(28.2,280.2) scale(1,1.13)" font-size="8.4" text-anchor="end">0.8</text>
<line x1="29.5" y1="281.1" x2="29.5" y2="278.7" stroke="#444" stroke-width="0.9" />
<line x1="35.05" y1="281.1" x2="35.05" y2="279.8" stroke="#444" stroke-width="0.9" />
<line x1="40.6" y1="281.1" x2="40.6" y2="279.8" stroke="#444" stroke-width="0.9" />
<line x1="46.15" y1="281.1" x2="46.15" y2="279.8" stroke="#444" stroke-width="0.9" />
<line x1="51.7" y1="281.1" x2="51.7" y2="279.8" stroke="#444" stroke-width="0.9" />
<line x1="57.25" y1="281.1" x2="57.25" y2="278.7" stroke="#444" stroke-width="0.9" />
<line x1="62.8" y1="281.1" x2="62.8" y2="279.8" stroke="#444" stroke-width="0.9" />
<line x1="68.35" y1="281.1" x2="68.35" y2="279.8" stroke="#444" stroke-width="0.9" />
<line x1="73.9" y1="281.1" x2="73.9" y2="279.8" stroke="#444" stroke-width="0.9" />
<line x1="79.45" y1="281.1" x2="79.45" y2="279.8" stroke="#444" stroke-width="0.9" />
<line x1="85" y1="281.1" x2="85" y2="278.7" stroke="#444" stroke-width="0.9" />
<line x1="90.55" y1="281.1" x2="90.55" y2="279.8" stroke="#444" stroke-width="0.9" />
<line x1="96.1" y1="281.1" x2="96.1" y2="279.8" stroke="#444" stroke-width="0.9" />
<line x1="101.65" y1="281.1" x2="101.65" y2="279.8" stroke="#444" stroke-width="0.9" />
<line x1="107.2" y1="281.1" x2="107.2" y2="279.8" stroke="#444" stroke-width="0.9" />
<line x1="112.75" y1="281.1" x2="112.75" y2="278.7" stroke="#444" stroke-width="0.9" />
<line x1="118.3" y1="281.1" x2="118.3" y2="279.8" stroke="#444" stroke-width="0.9" />
<line x1="123.85" y1="281.1" x2="123.85" y2="279.8" stroke="#444" stroke-width="0.9" />
<line x1="129.4" y1="281.1" x2="129.4" y2="279.8" stroke="#444" stroke-width="0.9" />
<line x1="134.95" y1="281.1" x2="134.95" y2="279.8" stroke="#444" stroke-width="0.9" />
<line x1="140.5" y1="281.1" x2="140.5" y2="278.7" stroke="#444" stroke-width="0.9" />
<line x1="146.05" y1="281.1" x2="146.05" y2="279.8" stroke="#444" stroke-width="0.9" />
<line x1="151.6" y1="281.1" x2="151.6" y2="279.8" stroke="#444" stroke-width="0.9" />
<line x1="157.15" y1="281.1" x2="157.15" y2="279.8" stroke="#444" stroke-width="0.9" />
<line x1="162.7" y1="281.1" x2="162.7" y2="279.8" stroke="#444" stroke-width="0.9" />
<line x1="168.25" y1="281.1" x2="168.25" y2="278.7" stroke="#444" stroke-width="0.9" />
<line x1="173.8" y1="281.1" x2="173.8" y2="279.8" stroke="#444" stroke-width="0.9" />
<line x1="179.35" y1="281.1" x2="179.35" y2="279.8" stroke="#444" stroke-width="0.9" />
<line x1="184.9" y1="281.1" x2="184.9" y2="279.8" stroke="#444" stroke-width="0.9" />
<line x1="190.45" y1="281.1" x2="190.45" y2="279.8" stroke="#444" stroke-width="0.9" />
<line x1="196" y1="281.1" x2="196" y2="278.7" stroke="#444" stroke-width="0.9" />
<line x1="201.55" y1="281.1" x2="201.55" y2="279.8" stroke="#444" stroke-width="0.9" />
<line x1="207.1" y1="281.1" x2="207.1" y2="279.8" stroke="#444" stroke-width="0.9" />
<line x1="212.65" y1="281.1" x2="212.65" y2="279.8" stroke="#444" stroke-width="0.9" />
<line x1="218.2" y1="281.1" x2="218.2" y2="279.8" stroke="#444" stroke-width="0.9" />
<line x1="223.75" y1="281.1" x2="223.75" y2="278.7" stroke="#444" stroke-width="0.9" />
<line x1="229.3" y1="281.1" x2="229.3" y2="279.8" stroke="#444" stroke-width="0.9" />
<line x1="234.85" y1="281.1" x2="234.85" y2="279.8" stroke="#444" stroke-width="0.9" />
<line x1="240.4" y1="281.1" x2="240.4" y2="279.8" stroke="#444" stroke-width="0.9" />
<line x1="245.95" y1="281.1" x2="245.95" y2="279.8" stroke="#444" stroke-width="0.9" />
<line x1="251.5" y1="281.1" x2="251.5" y2="278.7" stroke="#444" stroke-width="0.9" />
<line x1="257.05" y1="281.1" x2="257.05" y2="279.8" stroke="#444" stroke-width="0.9" />
<line x1="262.6" y1="281.1" x2="262.6" y2="279.8" stroke="#444" stroke-width="0.9" />
<line x1="268.15" y1="281.1" x2="268.15" y2="279.8" stroke="#444" stroke-width="0.9" />
<line x1="273.7" y1="281.1" x2="273.7" y2="279.8" stroke="#444" stroke-width="0.9" />
<line x1="279.25" y1="281.1" x2="279.25" y2="278.7" stroke="#444" stroke-width="0.9" />
<text x="29.1" y="290.3" font-size="10.3" text-anchor="middle" font-weight="normal" font-style="normal" fill="#000" >0</text>
<text x="56.85" y="290.3" font-size="10.3" text-anchor="middle" font-weight="normal" font-style="normal" fill="#000" >0.5</text>
<text x="84.6" y="290.3" font-size="10.3" text-anchor="middle" font-weight="normal" font-style="normal" fill="#000" >1</text>
<text x="112.35" y="290.3" font-size="10.3" text-anchor="middle" font-weight="normal" font-style="normal" fill="#000" >1.5</text>
<text x="140.1" y="290.3" font-size="10.3" text-anchor="middle" font-weight="normal" font-style="normal" fill="#000" >2</text>
<text x="167.85" y="290.3" font-size="10.3" text-anchor="middle" font-weight="normal" font-style="normal" fill="#000" >2.5</text>
<text x="195.6" y="290.3" font-size="10.3" text-anchor="middle" font-weight="normal" font-style="normal" fill="#000" >3</text>
<text x="223.35" y="290.3" font-size="10.3" text-anchor="middle" font-weight="normal" font-style="normal" fill="#000" >3.5</text>
<text x="251.1" y="290.3" font-size="10.3" text-anchor="middle" font-weight="normal" font-style="normal" fill="#000" >4</text>
<text x="278.85" y="290.3" font-size="10.3" text-anchor="middle" font-weight="normal" font-style="normal" fill="#000" >4.5</text>
<text x="264.8" y="300.5" font-size="12.3" text-anchor="start" font-weight="normal" font-style="normal" fill="#000" >y</text>
<text x="271.3" y="306.6" font-size="7.4" text-anchor="start" font-weight="normal" font-style="normal" fill="#000" >W</text>
<g transform="translate(8.3,15.8) rotate(-90)"><text x="0" y="0" font-size="11.2">A</text></g>
<g transform="translate(11,8.3) rotate(-90)"><text x="0" y="0" font-size="7.2">y</text></g>
<g transform="translate(15.2,4.9) rotate(-90)"><text x="0" y="0" font-size="5.4">W</text></g>
<g transform="translate(10.2,279.4) rotate(-90) scale(0.985,1)"><text x="0" y="0" font-size="10.7">Ratio to NNLO</text></g>
<text x="47" y="20" font-size="8.5" font-weight="bold" style="stroke-width:0.12px"><tspan font-style="italic">pp</tspan> collisions</text>
<circle cx="106.1" cy="16.8" r="3.4" fill="#3a3a3a"/><circle cx="106.3" cy="16.6" r="1.3" fill="#888"/>
<line x1="115.4" y1="15" x2="115.9" y2="20.6" stroke="#555" stroke-width="1.1" />
<line x1="117" y1="13.3" x2="123.5" y2="13.3" stroke="#ccc" stroke-width="0.6" />
<text x="118.4" y="20" font-size="8.5" text-anchor="start" font-weight="bold" font-style="italic" fill="#000" style="stroke-width:0.08px">s</text>
<text x="125.9" y="20" font-size="8.5" text-anchor="start" font-weight="bold" font-style="normal" fill="#000" style="stroke-width:0.12px">= 13 TeV</text>
<text x="51.8" y="38.5" font-size="7.2" text-anchor="start" font-weight="bold" font-style="normal" fill="#000" style="stroke-width:0.08px">NNPDF3.1 LUXqed PDF (NNLO)</text>
<rect x="56.5" y="54" width="11.5" height="11" fill="url(#hr)" />
<line x1="56.5" y1="59.5" x2="68" y2="59.5" stroke="#f55" stroke-width="0.8" />
<rect x="59.9" y="57.1" width="5" height="4.8" fill="#f00" />
<rect x="56.5" y="69.6" width="11.5" height="11" fill="url(#hb)" />
<line x1="56.5" y1="75.8" x2="68" y2="75.8" stroke="#55f" stroke-width="0.8" />
<polygon points="59,78.88 65.4,78.88 62.2,73.12" fill="#00f"/>
<rect x="56.5" y="85.6" width="11.5" height="10.2" fill="#e8f7e8" />
<line x1="56.5" y1="90.6" x2="68" y2="90.6" stroke="#3c3" stroke-width="0.9" />
<polygon points="59.2,88.2 65.2,88.2 62.2,93.6" fill="#0b0"/>
<text x="70" y="62.7" font-size="7.8" text-anchor="start" font-weight="normal" font-style="normal" fill="#000" style="stroke-width:0.15px">NNLO QCD</text>
<text x="70" y="78.4" font-size="7.8" text-anchor="start" font-weight="normal" font-style="normal" fill="#000" style="stroke-width:0.15px">NNLO QCD+NLO EW</text>
<text x="70" y="93.9" font-size="7.8" text-anchor="start" font-weight="normal" font-style="normal" fill="#000" style="stroke-width:0.15px">NNLO QCD×NLO EW</text>
</g>
<g transform="translate(317.6,0)">
<clipPath id="ctR"><rect x="29.5" y="0.4" width="249.75" height="210.1"/></clipPath>
<clipPath id="cbR"><rect x="29.5" y="210.5" width="249.75" height="70.60000000000002"/></clipPath>
<g clip-path="url(#ctR)">
<rect x="29.5" y="187.5" width="11.1" height="3.5" fill="url(#hr)" />
<rect x="29.5" y="187.5" width="11.1" height="3.5" fill="url(#hb2)" />
<rect x="40.6" y="186.5" width="11.1" height="3" fill="url(#hr)" />
<rect x="40.6" y="186.5" width="11.1" height="3" fill="url(#hb2)" />
<rect x="51.7" y="176" width="11.1" height="3.5" fill="url(#hr)" />
<rect x="51.7" y="176" width="11.1" height="3.5" fill="url(#hb2)" />
<rect x="62.8" y="179" width="11.1" height="3.5" fill="url(#hr)" />
<rect x="62.8" y="179" width="11.1" height="3.5" fill="url(#hb2)" />
<rect x="73.9" y="170" width="11.1" height="3.5" fill="url(#hr)" />
<rect x="73.9" y="170" width="11.1" height="3.5" fill="url(#hb2)" />
<rect x="85" y="167" width="11.1" height="3" fill="url(#hr)" />
<rect x="85" y="167" width="11.1" height="3" fill="url(#hb2)" />
<rect x="96.1" y="175.5" width="11.1" height="3.5" fill="url(#hr)" />
<rect x="96.1" y="175.5" width="11.1" height="3.5" fill="url(#hb2)" />
<rect x="107.2" y="167.5" width="11.1" height="3.5" fill="url(#hr)" />
<rect x="107.2" y="167.5" width="11.1" height="3.5" fill="url(#hb2)" />
<rect x="118.3" y="171.5" width="13.88" height="3.5" fill="url(#hr)" />
<rect x="118.3" y="171.5" width="13.88" height="3.5" fill="url(#hb2)" />
<rect x="132.18" y="157.5" width="13.88" height="3.5" fill="url(#hr)" />
<rect x="132.18" y="157.5" width="13.88" height="3.5" fill="url(#hb2)" />
<rect x="146.05" y="161.5" width="16.65" height="4" fill="url(#hr)" />
<rect x="146.05" y="161.5" width="16.65" height="4" fill="url(#hb2)" />
<rect x="162.7" y="166.75" width="16.65" height="2.75" fill="url(#hr)" />
<rect x="162.7" y="163.5" width="16.65" height="4.25" fill="url(#hb2)" />
<rect x="179.35" y="148.75" width="16.65" height="2.75" fill="url(#hr)" />
<rect x="179.35" y="145" width="16.65" height="4.75" fill="url(#hb2)" />
<rect x="196" y="117" width="27.75" height="2.5" fill="url(#hr)" />
<rect x="196" y="112" width="27.75" height="6" fill="url(#hb2)" />
<rect x="223.75" y="86.9" width="27.75" height="9.1" fill="url(#hr)" />
<rect x="223.75" y="86.9" width="27.75" height="9.1" fill="url(#hb2)" />
<rect x="251.5" y="2" width="27.75" height="17.5" fill="url(#hr)" />
<rect x="251.5" y="2" width="27.75" height="17.5" fill="url(#hb2)" />
<line x1="29.5" y1="189.1" x2="40.6" y2="189.1" stroke="#4b4" stroke-width="0.8" />
<line x1="29.5" y1="189.1" x2="40.6" y2="189.1" stroke="#44e" stroke-width="0.8" />
<line x1="29.5" y1="189.1" x2="40.6" y2="189.1" stroke="#e44" stroke-width="0.8" />
<line x1="29.9" y1="188.1" x2="29.9" y2="190.1" stroke="#4b4" stroke-width="0.8" />
<line x1="40.2" y1="188.1" x2="40.2" y2="190.1" stroke="#4b4" stroke-width="0.8" />
<line x1="35.05" y1="187.5" x2="35.05" y2="191" stroke="#6c6" stroke-width="0.7" />
<line x1="33.85" y1="187.5" x2="36.25" y2="187.5" stroke="#4a4" stroke-width="0.7" />
<line x1="33.85" y1="191" x2="36.25" y2="191" stroke="#4a4" stroke-width="0.7" />
<rect x="32.25" y="186.5" width="5.6" height="5.4" fill="#f00" />
<polygon points="32.2,192.2 37.9,192.2 37.9,189.8 35.05,186.4 32.2,189.8" fill="#00f"/>
<polygon points="32.2,186 37.9,186 37.9,188.4 35.05,191.8 32.2,188.4" fill="#0b0"/>
<line x1="40.6" y1="188" x2="51.7" y2="188" stroke="#4b4" stroke-width="0.8" />
<line x1="40.6" y1="188" x2="51.7" y2="188" stroke="#44e" stroke-width="0.8" />
<line x1="40.6" y1="188" x2="51.7" y2="188" stroke="#e44" stroke-width="0.8" />
<line x1="41" y1="187" x2="41" y2="189" stroke="#4b4" stroke-width="0.8" />
<line x1="51.3" y1="187" x2="51.3" y2="189" stroke="#4b4" stroke-width="0.8" />
<line x1="46.15" y1="186.5" x2="46.15" y2="189.5" stroke="#6c6" stroke-width="0.7" />
<line x1="44.95" y1="186.5" x2="47.35" y2="186.5" stroke="#4a4" stroke-width="0.7" />
<line x1="44.95" y1="189.5" x2="47.35" y2="189.5" stroke="#4a4" stroke-width="0.7" />
<rect x="43.35" y="185.4" width="5.6" height="5.4" fill="#f00" />
<polygon points="43.3,191.1 49,191.1 49,188.7 46.15,185.3 43.3,188.7" fill="#00f"/>
<polygon points="43.3,184.9 49,184.9 49,187.3 46.15,190.7 43.3,187.3" fill="#0b0"/>
<line x1="51.7" y1="177.8" x2="62.8" y2="177.8" stroke="#4b4" stroke-width="0.8" />
<line x1="51.7" y1="177.8" x2="62.8" y2="177.8" stroke="#44e" stroke-width="0.8" />
<line x1="51.7" y1="177.8" x2="62.8" y2="177.8" stroke="#e44" stroke-width="0.8" />
<line x1="52.1" y1="176.8" x2="52.1" y2="178.8" stroke="#4b4" stroke-width="0.8" />
<line x1="62.4" y1="176.8" x2="62.4" y2="178.8" stroke="#4b4" stroke-width="0.8" />
<line x1="57.25" y1="176" x2="57.25" y2="179.5" stroke="#6c6" stroke-width="0.7" />
<line x1="56.05" y1="176" x2="58.45" y2="176" stroke="#4a4" stroke-width="0.7" />
<line x1="56.05" y1="179.5" x2="58.45" y2="179.5" stroke="#4a4" stroke-width="0.7" />
<rect x="54.45" y="175.2" width="5.6" height="5.4" fill="#f00" />
<polygon points="54.4,180.9 60.1,180.9 60.1,178.5 57.25,175.1 54.4,178.5" fill="#00f"/>
<polygon points="54.4,174.7 60.1,174.7 60.1,177.1 57.25,180.5 54.4,177.1" fill="#0b0"/>
<line x1="62.8" y1="180.9" x2="73.9" y2="180.9" stroke="#4b4" stroke-width="0.8" />
<line x1="62.8" y1="180.9" x2="73.9" y2="180.9" stroke="#44e" stroke-width="0.8" />
<line x1="62.8" y1="180.9" x2="73.9" y2="180.9" stroke="#e44" stroke-width="0.8" />
<line x1="63.2" y1="179.9" x2="63.2" y2="181.9" stroke="#4b4" stroke-width="0.8" />
<line x1="73.5" y1="179.9" x2="73.5" y2="181.9" stroke="#4b4" stroke-width="0.8" />
<line x1="68.35" y1="179" x2="68.35" y2="182.5" stroke="#6c6" stroke-width="0.7" />
<line x1="67.15" y1="179" x2="69.55" y2="179" stroke="#4a4" stroke-width="0.7" />
<line x1="67.15" y1="182.5" x2="69.55" y2="182.5" stroke="#4a4" stroke-width="0.7" />
<rect x="65.55" y="178.3" width="5.6" height="5.4" fill="#f00" />
<polygon points="65.5,184 71.2,184 71.2,181.6 68.35,178.2 65.5,181.6" fill="#00f"/>
<polygon points="65.5,177.8 71.2,177.8 71.2,180.2 68.35,183.6 65.5,180.2" fill="#0b0"/>
<line x1="73.9" y1="171.7" x2="85" y2="171.7" stroke="#4b4" stroke-width="0.8" />
<line x1="73.9" y1="171.7" x2="85" y2="171.7" stroke="#44e" stroke-width="0.8" />
<line x1="73.9" y1="171.7" x2="85" y2="171.7" stroke="#e44" stroke-width="0.8" />
<line x1="74.3" y1="170.7" x2="74.3" y2="172.7" stroke="#4b4" stroke-width="0.8" />
<line x1="84.6" y1="170.7" x2="84.6" y2="172.7" stroke="#4b4" stroke-width="0.8" />
<line x1="79.45" y1="170" x2="79.45" y2="173.5" stroke="#6c6" stroke-width="0.7" />
<line x1="78.25" y1="170" x2="80.65" y2="170" stroke="#4a4" stroke-width="0.7" />
<line x1="78.25" y1="173.5" x2="80.65" y2="173.5" stroke="#4a4" stroke-width="0.7" />
<rect x="76.65" y="169.1" width="5.6" height="5.4" fill="#f00" />
<polygon points="76.6,174.8 82.3,174.8 82.3,172.4 79.45,169 76.6,172.4" fill="#00f"/>
<polygon points="76.6,168.6 82.3,168.6 82.3,171 79.45,174.4 76.6,171" fill="#0b0"/>
<line x1="85" y1="168.5" x2="96.1" y2="168.5" stroke="#4b4" stroke-width="0.8" />
<line x1="85" y1="168.5" x2="96.1" y2="168.5" stroke="#44e" stroke-width="0.8" />
<line x1="85" y1="168.5" x2="96.1" y2="168.5" stroke="#e44" stroke-width="0.8" />
<line x1="85.4" y1="167.5" x2="85.4" y2="169.5" stroke="#4b4" stroke-width="0.8" />
<line x1="95.7" y1="167.5" x2="95.7" y2="169.5" stroke="#4b4" stroke-width="0.8" />
<line x1="90.55" y1="167" x2="90.55" y2="170" stroke="#6c6" stroke-width="0.7" />
<line x1="89.35" y1="167" x2="91.75" y2="167" stroke="#4a4" stroke-width="0.7" />
<line x1="89.35" y1="170" x2="91.75" y2="170" stroke="#4a4" stroke-width="0.7" />
<rect x="87.75" y="165.9" width="5.6" height="5.4" fill="#f00" />
<polygon points="87.7,171.6 93.4,171.6 93.4,169.2 90.55,165.8 87.7,169.2" fill="#00f"/>
<polygon points="87.7,165.4 93.4,165.4 93.4,167.8 90.55,171.2 87.7,167.8" fill="#0b0"/>
<line x1="96.1" y1="177.1" x2="107.2" y2="177.1" stroke="#4b4" stroke-width="0.8" />
<line x1="96.1" y1="177.1" x2="107.2" y2="177.1" stroke="#44e" stroke-width="0.8" />
<line x1="96.1" y1="177.1" x2="107.2" y2="177.1" stroke="#e44" stroke-width="0.8" />
<line x1="96.5" y1="176.1" x2="96.5" y2="178.1" stroke="#4b4" stroke-width="0.8" />
<line x1="106.8" y1="176.1" x2="106.8" y2="178.1" stroke="#4b4" stroke-width="0.8" />
<line x1="101.65" y1="175.5" x2="101.65" y2="179" stroke="#6c6" stroke-width="0.7" />
<line x1="100.45" y1="175.5" x2="102.85" y2="175.5" stroke="#4a4" stroke-width="0.7" />
<line x1="100.45" y1="179" x2="102.85" y2="179" stroke="#4a4" stroke-width="0.7" />
<rect x="98.85" y="174.5" width="5.6" height="5.4" fill="#f00" />
<polygon points="98.8,180.2 104.5,180.2 104.5,177.8 101.65,174.4 98.8,177.8" fill="#00f"/>
<polygon points="98.8,174 104.5,174 104.5,176.4 101.65,179.8 98.8,176.4" fill="#0b0"/>
<line x1="107.2" y1="169.3" x2="118.3" y2="169.3" stroke="#4b4" stroke-width="0.8" />
<line x1="107.2" y1="169.3" x2="118.3" y2="169.3" stroke="#44e" stroke-width="0.8" />
<line x1="107.2" y1="169.3" x2="118.3" y2="169.3" stroke="#e44" stroke-width="0.8" />
<line x1="107.6" y1="168.3" x2="107.6" y2="170.3" stroke="#4b4" stroke-width="0.8" />
<line x1="117.9" y1="168.3" x2="117.9" y2="170.3" stroke="#4b4" stroke-width="0.8" />
<line x1="112.75" y1="167.5" x2="112.75" y2="171" stroke="#6c6" stroke-width="0.7" />
<line x1="111.55" y1="167.5" x2="113.95" y2="167.5" stroke="#4a4" stroke-width="0.7" />
<line x1="111.55" y1="171" x2="113.95" y2="171" stroke="#4a4" stroke-width="0.7" />
<rect x="109.95" y="166.7" width="5.6" height="5.4" fill="#f00" />
<polygon points="109.9,172.4 115.6,172.4 115.6,170 112.75,166.6 109.9,170" fill="#00f"/>
<polygon points="109.9,166.2 115.6,166.2 115.6,168.6 112.75,172 109.9,168.6" fill="#0b0"/>
<line x1="118.3" y1="173.3" x2="132.18" y2="173.3" stroke="#4b4" stroke-width="0.8" />
<line x1="118.3" y1="173.3" x2="132.18" y2="173.3" stroke="#44e" stroke-width="0.8" />
<line x1="118.3" y1="173.3" x2="132.18" y2="173.3" stroke="#e44" stroke-width="0.8" />
<line x1="118.7" y1="172.3" x2="118.7" y2="174.3" stroke="#4b4" stroke-width="0.8" />
<line x1="131.78" y1="172.3" x2="131.78" y2="174.3" stroke="#4b4" stroke-width="0.8" />
<line x1="125.24" y1="171.5" x2="125.24" y2="175" stroke="#6c6" stroke-width="0.7" />
<line x1="124.04" y1="171.5" x2="126.44" y2="171.5" stroke="#4a4" stroke-width="0.7" />
<line x1="124.04" y1="175" x2="126.44" y2="175" stroke="#4a4" stroke-width="0.7" />
<rect x="122.44" y="170.7" width="5.6" height="5.4" fill="#f00" />
<polygon points="122.39,176.4 128.09,176.4 128.09,174 125.24,170.6 122.39,174" fill="#00f"/>
<polygon points="122.39,170.2 128.09,170.2 128.09,172.6 125.24,176 122.39,172.6" fill="#0b0"/>
<line x1="132.18" y1="159.1" x2="146.05" y2="159.1" stroke="#4b4" stroke-width="0.8" />
<line x1="132.18" y1="159.1" x2="146.05" y2="159.1" stroke="#44e" stroke-width="0.8" />
<line x1="132.18" y1="159.1" x2="146.05" y2="159.1" stroke="#e44" stroke-width="0.8" />
<line x1="132.58" y1="158.1" x2="132.58" y2="160.1" stroke="#4b4" stroke-width="0.8" />
<line x1="145.65" y1="158.1" x2="145.65" y2="160.1" stroke="#4b4" stroke-width="0.8" />
<line x1="139.11" y1="157.5" x2="139.11" y2="161" stroke="#6c6" stroke-width="0.7" />
<line x1="137.91" y1="157.5" x2="140.31" y2="157.5" stroke="#4a4" stroke-width="0.7" />
<line x1="137.91" y1="161" x2="140.31" y2="161" stroke="#4a4" stroke-width="0.7" />
<rect x="136.31" y="156.5" width="5.6" height="5.4" fill="#f00" />
<polygon points="136.26,162.2 141.96,162.2 141.96,159.8 139.11,156.4 136.26,159.8" fill="#00f"/>
<polygon points="136.26,156 141.96,156 141.96,158.4 139.11,161.8 136.26,158.4" fill="#0b0"/>
<line x1="146.05" y1="163.2" x2="162.7" y2="163.2" stroke="#4b4" stroke-width="0.8" />
<line x1="146.05" y1="163.5" x2="162.7" y2="163.5" stroke="#44e" stroke-width="0.8" />
<line x1="146.05" y1="164" x2="162.7" y2="164" stroke="#e44" stroke-width="0.8" />
<line x1="146.45" y1="162.2" x2="146.45" y2="164.2" stroke="#4b4" stroke-width="0.8" />
<line x1="162.3" y1="162.2" x2="162.3" y2="164.2" stroke="#4b4" stroke-width="0.8" />
<line x1="154.38" y1="161.5" x2="154.38" y2="165.5" stroke="#6c6" stroke-width="0.7" />
<line x1="153.18" y1="161.5" x2="155.57" y2="161.5" stroke="#4a4" stroke-width="0.7" />
<line x1="153.18" y1="165.5" x2="155.57" y2="165.5" stroke="#4a4" stroke-width="0.7" />
<rect x="151.57" y="161.4" width="5.6" height="5.4" fill="#f00" />
<polygon points="151.53,166.6 157.22,166.6 157.22,164.2 154.38,160.8 151.53,164.2" fill="#00f"/>
<polygon points="151.53,160.1 157.22,160.1 157.22,162.5 154.38,165.9 151.53,162.5" fill="#0b0"/>
<line x1="162.7" y1="165.2" x2="179.35" y2="165.2" stroke="#4b4" stroke-width="0.8" />
<line x1="162.7" y1="166.5" x2="179.35" y2="166.5" stroke="#44e" stroke-width="0.8" />
<line x1="162.7" y1="168" x2="179.35" y2="168" stroke="#e44" stroke-width="0.8" />
<line x1="163.1" y1="164.2" x2="163.1" y2="166.2" stroke="#4b4" stroke-width="0.8" />
<line x1="178.95" y1="164.2" x2="178.95" y2="166.2" stroke="#4b4" stroke-width="0.8" />
<line x1="171.03" y1="163.5" x2="171.03" y2="169.5" stroke="#6c6" stroke-width="0.7" />
<line x1="169.83" y1="163.5" x2="172.22" y2="163.5" stroke="#4a4" stroke-width="0.7" />
<line x1="169.83" y1="169.5" x2="172.22" y2="169.5" stroke="#4a4" stroke-width="0.7" />
<rect x="168.22" y="165.4" width="5.6" height="5.4" fill="#f00" />
<polygon points="168.18,169.6 173.88,169.6 173.88,167.2 171.03,163.8 168.18,167.2" fill="#00f"/>
<polygon points="168.18,162.1 173.88,162.1 173.88,164.5 171.03,167.9 168.18,164.5" fill="#0b0"/>
<line x1="179.35" y1="147" x2="196" y2="147" stroke="#4b4" stroke-width="0.8" />
<line x1="179.35" y1="148.5" x2="196" y2="148.5" stroke="#44e" stroke-width="0.8" />
<line x1="179.35" y1="150" x2="196" y2="150" stroke="#e44" stroke-width="0.8" />
<line x1="179.75" y1="146" x2="179.75" y2="148" stroke="#4b4" stroke-width="0.8" />
<line x1="195.6" y1="146" x2="195.6" y2="148" stroke="#4b4" stroke-width="0.8" />
<line x1="187.68" y1="145" x2="187.68" y2="151.5" stroke="#6c6" stroke-width="0.7" />
<line x1="186.48" y1="145" x2="188.88" y2="145" stroke="#4a4" stroke-width="0.7" />
<line x1="186.48" y1="151.5" x2="188.88" y2="151.5" stroke="#4a4" stroke-width="0.7" />
<rect x="184.88" y="147.4" width="5.6" height="5.4" fill="#f00" />
<polygon points="184.83,151.6 190.53,151.6 190.53,149.2 187.68,145.8 184.83,149.2" fill="#00f"/>
<polygon points="184.83,143.9 190.53,143.9 190.53,146.3 187.68,149.7 184.83,146.3" fill="#0b0"/>
<line x1="196" y1="114.5" x2="223.75" y2="114.5" stroke="#4b4" stroke-width="0.8" />
<line x1="196" y1="116.5" x2="223.75" y2="116.5" stroke="#44e" stroke-width="0.8" />
<line x1="196" y1="118.5" x2="223.75" y2="118.5" stroke="#e44" stroke-width="0.8" />
<line x1="196.4" y1="113.5" x2="196.4" y2="115.5" stroke="#4b4" stroke-width="0.8" />
<line x1="223.35" y1="113.5" x2="223.35" y2="115.5" stroke="#4b4" stroke-width="0.8" />
<line x1="209.88" y1="112" x2="209.88" y2="119.5" stroke="#6c6" stroke-width="0.7" />
<line x1="208.68" y1="112" x2="211.07" y2="112" stroke="#4a4" stroke-width="0.7" />
<line x1="208.68" y1="119.5" x2="211.07" y2="119.5" stroke="#4a4" stroke-width="0.7" />
<rect x="207.07" y="115.9" width="5.6" height="5.4" fill="#f00" />
<polygon points="207.03,119.6 212.72,119.6 212.72,117.2 209.88,113.8 207.03,117.2" fill="#00f"/>
<polygon points="207.03,111.4 212.72,111.4 212.72,113.8 209.88,117.2 207.03,113.8" fill="#0b0"/>
<line x1="223.75" y1="90.8" x2="251.5" y2="90.8" stroke="#4b4" stroke-width="0.8" />
<line x1="223.75" y1="91" x2="251.5" y2="91" stroke="#44e" stroke-width="0.8" />
<line x1="223.75" y1="91.5" x2="251.5" y2="91.5" stroke="#e44" stroke-width="0.8" />
<line x1="224.15" y1="89.8" x2="224.15" y2="91.8" stroke="#4b4" stroke-width="0.8" />
<line x1="251.1" y1="89.8" x2="251.1" y2="91.8" stroke="#4b4" stroke-width="0.8" />
<line x1="237.62" y1="86.9" x2="237.62" y2="96" stroke="#6c6" stroke-width="0.7" />
<line x1="236.43" y1="86.9" x2="238.82" y2="86.9" stroke="#4a4" stroke-width="0.7" />
<line x1="236.43" y1="96" x2="238.82" y2="96" stroke="#4a4" stroke-width="0.7" />
<rect x="234.82" y="88.9" width="5.6" height="5.4" fill="#f00" />
<polygon points="234.78,94.1 240.47,94.1 240.47,91.7 237.62,88.3 234.78,91.7" fill="#00f"/>
<polygon points="234.78,87.7 240.47,87.7 240.47,90.1 237.62,93.5 234.78,90.1" fill="#0b0"/>
<line x1="251.5" y1="9.8" x2="279.25" y2="9.8" stroke="#4b4" stroke-width="0.8" />
<line x1="251.5" y1="10.5" x2="279.25" y2="10.5" stroke="#44e" stroke-width="0.8" />
<line x1="251.5" y1="11.7" x2="279.25" y2="11.7" stroke="#e44" stroke-width="0.8" />
<line x1="251.9" y1="8.8" x2="251.9" y2="10.8" stroke="#4b4" stroke-width="0.8" />
<line x1="278.85" y1="8.8" x2="278.85" y2="10.8" stroke="#4b4" stroke-width="0.8" />
<line x1="265.38" y1="2" x2="265.38" y2="19.5" stroke="#6c6" stroke-width="0.7" />
<line x1="264.18" y1="2" x2="266.57" y2="2" stroke="#4a4" stroke-width="0.7" />
<line x1="264.18" y1="19.5" x2="266.57" y2="19.5" stroke="#4a4" stroke-width="0.7" />
<rect x="262.57" y="9.1" width="5.6" height="5.4" fill="#f00" />
<polygon points="262.52,13.6 268.23,13.6 268.23,11.2 265.38,7.8 262.52,11.2" fill="#00f"/>
<polygon points="262.52,6.7 268.23,6.7 268.23,9.1 265.38,12.5 262.52,9.1" fill="#0b0"/>
</g>
<g clip-path="url(#cbR)">
<rect x="29.5" y="223" width="11.1" height="58" fill="url(#hg)" />
<rect x="29.5" y="227" width="11.1" height="54" fill="url(#hb)" />
<rect x="40.6" y="212" width="11.1" height="44.4" fill="url(#hg)" />
<rect x="40.6" y="212" width="11.1" height="50" fill="url(#hb)" />
<rect x="51.7" y="233" width="11.1" height="21.8" fill="url(#hg)" />
<rect x="51.7" y="234.4" width="11.1" height="15.9" fill="url(#hb)" />
<rect x="62.8" y="237.6" width="11.1" height="20.4" fill="url(#hg)" />
<rect x="62.8" y="239.5" width="11.1" height="17.1" fill="url(#hb)" />
<rect x="73.9" y="231.4" width="11.1" height="26.6" fill="url(#hg)" />
<rect x="73.9" y="232.2" width="11.1" height="24.4" fill="url(#hb)" />
<rect x="85" y="238.7" width="11.1" height="13.9" fill="url(#hg)" />
<rect x="85" y="238.7" width="11.1" height="13.9" fill="url(#hb)" />
<rect x="96.1" y="229.8" width="11.1" height="23.6" fill="url(#hg)" />
<rect x="96.1" y="232.2" width="11.1" height="20.4" fill="url(#hb)" />
<rect x="107.2" y="236.3" width="11.1" height="17.1" fill="url(#hg)" />
<rect x="107.2" y="237.9" width="11.1" height="13.9" fill="url(#hb)" />
<rect x="118.3" y="237.1" width="13.88" height="17.9" fill="url(#hg)" />
<rect x="118.3" y="238.7" width="13.88" height="15.5" fill="url(#hb)" />
<rect x="132.18" y="237.9" width="13.88" height="12.2" fill="url(#hg)" />
<rect x="132.18" y="239.5" width="13.88" height="9.8" fill="url(#hb)" />
<rect x="146.05" y="237.1" width="16.65" height="13" fill="url(#hg)" />
<rect x="146.05" y="238.3" width="16.65" height="10.4" fill="url(#hb)" />
<rect x="162.7" y="229.4" width="16.65" height="16.6" fill="url(#hg)" />
<rect x="162.7" y="236.3" width="16.65" height="10.5" fill="url(#hb)" />
<rect x="179.35" y="231.4" width="16.65" height="13.8" fill="url(#hg)" />
<rect x="179.35" y="235" width="16.65" height="9.8" fill="url(#hb)" />
<rect x="196" y="234" width="27.75" height="11" fill="url(#hg)" />
<rect x="196" y="237" width="27.75" height="6.9" fill="url(#hb)" />
<rect x="223.75" y="240.4" width="27.75" height="12.2" fill="url(#hg)" />
<rect x="223.75" y="241.7" width="27.75" height="10.7" fill="url(#hb)" />
<rect x="251.5" y="239.2" width="27.75" height="10.9" fill="url(#hg)" />
<rect x="251.5" y="239.3" width="27.75" height="11.8" fill="url(#hb)" />
<line x1="29.5" y1="264" x2="40.6" y2="264" stroke="#55e" stroke-width="0.8" />
<line x1="29.5" y1="260.5" x2="40.6" y2="260.5" stroke="#5c5" stroke-width="0.8" />
<line x1="35.05" y1="223" x2="35.05" y2="281" stroke="#5b5" stroke-width="0.9" />
<line x1="33.75" y1="223" x2="36.35" y2="223" stroke="#44c" stroke-width="0.9" />
<line x1="33.75" y1="281" x2="36.35" y2="281" stroke="#4a4" stroke-width="0.9" />
<polygon points="32.2,267.1 37.9,267.1 37.9,264.7 35.05,261.3 32.2,264.7" fill="#00f"/>
<polygon points="32.2,257.4 37.9,257.4 37.9,259.8 35.05,263.2 32.2,259.8" fill="#0b0"/>
<line x1="40.6" y1="239.3" x2="51.7" y2="239.3" stroke="#55e" stroke-width="0.8" />
<line x1="40.6" y1="232" x2="51.7" y2="232" stroke="#5c5" stroke-width="0.8" />
<line x1="46.15" y1="212" x2="46.15" y2="256.4" stroke="#5b5" stroke-width="0.9" />
<line x1="44.85" y1="212" x2="47.45" y2="212" stroke="#44c" stroke-width="0.9" />
<line x1="44.85" y1="256.4" x2="47.45" y2="256.4" stroke="#4a4" stroke-width="0.9" />
<polygon points="43.3,242.4 49,242.4 49,240 46.15,236.6 43.3,240" fill="#00f"/>
<polygon points="43.3,228.9 49,228.9 49,231.3 46.15,234.7 43.3,231.3" fill="#0b0"/>
<line x1="51.7" y1="245" x2="62.8" y2="245" stroke="#55e" stroke-width="0.8" />
<line x1="51.7" y1="243.5" x2="62.8" y2="243.5" stroke="#5c5" stroke-width="0.8" />
<line x1="57.25" y1="233" x2="57.25" y2="254.8" stroke="#5b5" stroke-width="0.9" />
<line x1="55.95" y1="233" x2="58.55" y2="233" stroke="#44c" stroke-width="0.9" />
<line x1="55.95" y1="254.8" x2="58.55" y2="254.8" stroke="#4a4" stroke-width="0.9" />
<polygon points="54.4,248.1 60.1,248.1 60.1,245.7 57.25,242.3 54.4,245.7" fill="#00f"/>
<polygon points="54.4,240.4 60.1,240.4 60.1,242.8 57.25,246.2 54.4,242.8" fill="#0b0"/>
<line x1="62.8" y1="249.5" x2="73.9" y2="249.5" stroke="#55e" stroke-width="0.8" />
<line x1="62.8" y1="248" x2="73.9" y2="248" stroke="#5c5" stroke-width="0.8" />
<line x1="68.35" y1="237.6" x2="68.35" y2="258" stroke="#5b5" stroke-width="0.9" />
<line x1="67.05" y1="237.6" x2="69.65" y2="237.6" stroke="#44c" stroke-width="0.9" />
<line x1="67.05" y1="258" x2="69.65" y2="258" stroke="#4a4" stroke-width="0.9" />
<polygon points="65.5,252.6 71.2,252.6 71.2,250.2 68.35,246.8 65.5,250.2" fill="#00f"/>
<polygon points="65.5,244.9 71.2,244.9 71.2,247.3 68.35,250.7 65.5,247.3" fill="#0b0"/>
<line x1="73.9" y1="245.5" x2="85" y2="245.5" stroke="#55e" stroke-width="0.8" />
<line x1="73.9" y1="244.5" x2="85" y2="244.5" stroke="#5c5" stroke-width="0.8" />
<line x1="79.45" y1="231.4" x2="79.45" y2="258" stroke="#5b5" stroke-width="0.9" />
<line x1="78.15" y1="231.4" x2="80.75" y2="231.4" stroke="#44c" stroke-width="0.9" />
<line x1="78.15" y1="258" x2="80.75" y2="258" stroke="#4a4" stroke-width="0.9" />
<polygon points="76.6,248.6 82.3,248.6 82.3,246.2 79.45,242.8 76.6,246.2" fill="#00f"/>
<polygon points="76.6,241.4 82.3,241.4 82.3,243.8 79.45,247.2 76.6,243.8" fill="#0b0"/>
<line x1="85" y1="245.2" x2="96.1" y2="245.2" stroke="#55e" stroke-width="0.8" />
<line x1="85" y1="245.2" x2="96.1" y2="245.2" stroke="#5c5" stroke-width="0.8" />
<line x1="90.55" y1="238.7" x2="90.55" y2="252.6" stroke="#5b5" stroke-width="0.9" />
<line x1="89.25" y1="238.7" x2="91.85" y2="238.7" stroke="#44c" stroke-width="0.9" />
<line x1="89.25" y1="252.6" x2="91.85" y2="252.6" stroke="#4a4" stroke-width="0.9" />
<polygon points="87.7,248.3 93.4,248.3 93.4,245.9 90.55,242.5 87.7,245.9" fill="#00f"/>
<polygon points="87.7,242.1 93.4,242.1 93.4,244.5 90.55,247.9 87.7,244.5" fill="#0b0"/>
<line x1="96.1" y1="242.8" x2="107.2" y2="242.8" stroke="#55e" stroke-width="0.8" />
<line x1="96.1" y1="240.4" x2="107.2" y2="240.4" stroke="#5c5" stroke-width="0.8" />
<line x1="101.65" y1="229.8" x2="101.65" y2="253.4" stroke="#5b5" stroke-width="0.9" />
<line x1="100.35" y1="229.8" x2="102.95" y2="229.8" stroke="#44c" stroke-width="0.9" />
<line x1="100.35" y1="253.4" x2="102.95" y2="253.4" stroke="#4a4" stroke-width="0.9" />
<polygon points="98.8,245.9 104.5,245.9 104.5,243.5 101.65,240.1 98.8,243.5" fill="#00f"/>
<polygon points="98.8,237.3 104.5,237.3 104.5,239.7 101.65,243.1 98.8,239.7" fill="#0b0"/>
<line x1="107.2" y1="246.5" x2="118.3" y2="246.5" stroke="#55e" stroke-width="0.8" />
<line x1="107.2" y1="245.5" x2="118.3" y2="245.5" stroke="#5c5" stroke-width="0.8" />
<line x1="112.75" y1="236.3" x2="112.75" y2="253.4" stroke="#5b5" stroke-width="0.9" />
<line x1="111.45" y1="236.3" x2="114.05" y2="236.3" stroke="#44c" stroke-width="0.9" />
<line x1="111.45" y1="253.4" x2="114.05" y2="253.4" stroke="#4a4" stroke-width="0.9" />
<polygon points="109.9,249.6 115.6,249.6 115.6,247.2 112.75,243.8 109.9,247.2" fill="#00f"/>
<polygon points="109.9,242.4 115.6,242.4 115.6,244.8 112.75,248.2 109.9,244.8" fill="#0b0"/>
<line x1="118.3" y1="247.8" x2="132.18" y2="247.8" stroke="#55e" stroke-width="0.8" />
<line x1="118.3" y1="246.3" x2="132.18" y2="246.3" stroke="#5c5" stroke-width="0.8" />
<line x1="125.24" y1="237.1" x2="125.24" y2="255" stroke="#5b5" stroke-width="0.9" />
<line x1="123.94" y1="237.1" x2="126.54" y2="237.1" stroke="#44c" stroke-width="0.9" />
<line x1="123.94" y1="255" x2="126.54" y2="255" stroke="#4a4" stroke-width="0.9" />
<polygon points="122.39,250.9 128.09,250.9 128.09,248.5 125.24,245.1 122.39,248.5" fill="#00f"/>
<polygon points="122.39,243.2 128.09,243.2 128.09,245.6 125.24,249 122.39,245.6" fill="#0b0"/>
<line x1="132.18" y1="245" x2="146.05" y2="245" stroke="#55e" stroke-width="0.8" />
<line x1="132.18" y1="244" x2="146.05" y2="244" stroke="#5c5" stroke-width="0.8" />
<line x1="139.11" y1="237.9" x2="139.11" y2="250.1" stroke="#5b5" stroke-width="0.9" />
<line x1="137.81" y1="237.9" x2="140.41" y2="237.9" stroke="#44c" stroke-width="0.9" />
<line x1="137.81" y1="250.1" x2="140.41" y2="250.1" stroke="#4a4" stroke-width="0.9" />
<polygon points="136.26,248.1 141.96,248.1 141.96,245.7 139.11,242.3 136.26,245.7" fill="#00f"/>
<polygon points="136.26,240.9 141.96,240.9 141.96,243.3 139.11,246.7 136.26,243.3" fill="#0b0"/>
<line x1="146.05" y1="245" x2="162.7" y2="245" stroke="#55e" stroke-width="0.8" />
<line x1="146.05" y1="243" x2="162.7" y2="243" stroke="#5c5" stroke-width="0.8" />
<line x1="154.38" y1="237.1" x2="154.38" y2="250.1" stroke="#5b5" stroke-width="0.9" />
<line x1="153.07" y1="237.1" x2="155.68" y2="237.1" stroke="#44c" stroke-width="0.9" />
<line x1="153.07" y1="250.1" x2="155.68" y2="250.1" stroke="#4a4" stroke-width="0.9" />
<polygon points="151.53,248.1 157.22,248.1 157.22,245.7 154.38,242.3 151.53,245.7" fill="#00f"/>
<polygon points="151.53,239.9 157.22,239.9 157.22,242.3 154.38,245.7 151.53,242.3" fill="#0b0"/>
<line x1="162.7" y1="240.5" x2="179.35" y2="240.5" stroke="#55e" stroke-width="0.8" />
<line x1="162.7" y1="236" x2="179.35" y2="236" stroke="#5c5" stroke-width="0.8" />
<line x1="171.03" y1="229.4" x2="171.03" y2="246" stroke="#5b5" stroke-width="0.9" />
<line x1="169.72" y1="229.4" x2="172.33" y2="229.4" stroke="#44c" stroke-width="0.9" />
<line x1="169.72" y1="246" x2="172.33" y2="246" stroke="#4a4" stroke-width="0.9" />
<polygon points="168.18,243.6 173.88,243.6 173.88,241.2 171.03,237.8 168.18,241.2" fill="#00f"/>
<polygon points="168.18,232.9 173.88,232.9 173.88,235.3 171.03,238.7 168.18,235.3" fill="#0b0"/>
<line x1="179.35" y1="240.5" x2="196" y2="240.5" stroke="#55e" stroke-width="0.8" />
<line x1="179.35" y1="238.2" x2="196" y2="238.2" stroke="#5c5" stroke-width="0.8" />
<line x1="187.68" y1="231.4" x2="187.68" y2="245.2" stroke="#5b5" stroke-width="0.9" />
<line x1="186.38" y1="231.4" x2="188.98" y2="231.4" stroke="#44c" stroke-width="0.9" />
<line x1="186.38" y1="245.2" x2="188.98" y2="245.2" stroke="#4a4" stroke-width="0.9" />
<polygon points="184.83,243.6 190.53,243.6 190.53,241.2 187.68,237.8 184.83,241.2" fill="#00f"/>
<polygon points="184.83,235.1 190.53,235.1 190.53,237.5 187.68,240.9 184.83,237.5" fill="#0b0"/>
<line x1="196" y1="241" x2="223.75" y2="241" stroke="#55e" stroke-width="0.8" />
<line x1="196" y1="239.2" x2="223.75" y2="239.2" stroke="#5c5" stroke-width="0.8" />
<line x1="209.88" y1="234" x2="209.88" y2="245" stroke="#5b5" stroke-width="0.9" />
<line x1="208.57" y1="234" x2="211.18" y2="234" stroke="#44c" stroke-width="0.9" />
<line x1="208.57" y1="245" x2="211.18" y2="245" stroke="#4a4" stroke-width="0.9" />
<polygon points="207.03,244.1 212.72,244.1 212.72,241.7 209.88,238.3 207.03,241.7" fill="#00f"/>
<polygon points="207.03,236.1 212.72,236.1 212.72,238.5 209.88,241.9 207.03,238.5" fill="#0b0"/>
<line x1="223.75" y1="248" x2="251.5" y2="248" stroke="#55e" stroke-width="0.8" />
<line x1="223.75" y1="246.5" x2="251.5" y2="246.5" stroke="#5c5" stroke-width="0.8" />
<line x1="237.62" y1="240.4" x2="237.62" y2="252.6" stroke="#5b5" stroke-width="0.9" />
<line x1="236.32" y1="240.4" x2="238.93" y2="240.4" stroke="#44c" stroke-width="0.9" />
<line x1="236.32" y1="252.6" x2="238.93" y2="252.6" stroke="#4a4" stroke-width="0.9" />
<polygon points="234.78,251.1 240.47,251.1 240.47,248.7 237.62,245.3 234.78,248.7" fill="#00f"/>
<polygon points="234.78,243.4 240.47,243.4 240.47,245.8 237.62,249.2 234.78,245.8" fill="#0b0"/>
<line x1="251.5" y1="246.2" x2="279.25" y2="246.2" stroke="#55e" stroke-width="0.8" />
<line x1="251.5" y1="244.6" x2="279.25" y2="244.6" stroke="#5c5" stroke-width="0.8" />
<line x1="265.38" y1="239.2" x2="265.38" y2="250.1" stroke="#5b5" stroke-width="0.9" />
<line x1="264.07" y1="239.2" x2="266.68" y2="239.2" stroke="#44c" stroke-width="0.9" />
<line x1="264.07" y1="250.1" x2="266.68" y2="250.1" stroke="#4a4" stroke-width="0.9" />
<polygon points="262.52,249.3 268.23,249.3 268.23,246.9 265.38,243.5 262.52,246.9" fill="#00f"/>
<polygon points="262.52,241.5 268.23,241.5 268.23,243.9 265.38,247.3 262.52,243.9" fill="#0b0"/>
</g>
<line x1="46.15" y1="256.4" x2="46.15" y2="267.3" stroke="#66d" stroke-width="0.8" />
<line x1="44.95" y1="267.3" x2="47.35" y2="267.3" stroke="#55c" stroke-width="0.7" />
<rect x="29.5" y="0.4" width="249.75" height="210.1" fill="none" stroke="#555" stroke-width="1.15"/>
<rect x="29.5" y="210.5" width="249.75" height="70.6" fill="none" stroke="#555" stroke-width="1.15"/>
<line x1="29.5" y1="206" x2="33.7" y2="206" stroke="#444" stroke-width="0.9" />
<line x1="29.5" y1="201.1" x2="33.7" y2="201.1" stroke="#444" stroke-width="0.9" />
<line x1="29.5" y1="196.2" x2="33.7" y2="196.2" stroke="#444" stroke-width="0.9" />
<line x1="29.5" y1="191.3" x2="37.5" y2="191.3" stroke="#444" stroke-width="0.9" />
<line x1="29.5" y1="186.4" x2="33.7" y2="186.4" stroke="#444" stroke-width="0.9" />
<line x1="29.5" y1="181.5" x2="33.7" y2="181.5" stroke="#444" stroke-width="0.9" />
<line x1="29.5" y1="176.6" x2="33.7" y2="176.6" stroke="#444" stroke-width="0.9" />
<line x1="29.5" y1="171.7" x2="33.7" y2="171.7" stroke="#444" stroke-width="0.9" />
<line x1="29.5" y1="166.8" x2="37.5" y2="166.8" stroke="#444" stroke-width="0.9" />
<line x1="29.5" y1="161.9" x2="33.7" y2="161.9" stroke="#444" stroke-width="0.9" />
<line x1="29.5" y1="157" x2="33.7" y2="157" stroke="#444" stroke-width="0.9" />
<line x1="29.5" y1="152.1" x2="33.7" y2="152.1" stroke="#444" stroke-width="0.9" />
<line x1="29.5" y1="147.2" x2="33.7" y2="147.2" stroke="#444" stroke-width="0.9" />
<line x1="29.5" y1="142.3" x2="37.5" y2="142.3" stroke="#444" stroke-width="0.9" />
<line x1="29.5" y1="137.4" x2="33.7" y2="137.4" stroke="#444" stroke-width="0.9" />
<line x1="29.5" y1="132.5" x2="33.7" y2="132.5" stroke="#444" stroke-width="0.9" />
<line x1="29.5" y1="127.6" x2="33.7" y2="127.6" stroke="#444" stroke-width="0.9" />
<line x1="29.5" y1="122.7" x2="33.7" y2="122.7" stroke="#444" stroke-width="0.9" />
<line x1="29.5" y1="117.8" x2="37.5" y2="117.8" stroke="#444" stroke-width="0.9" />
<line x1="29.5" y1="112.9" x2="33.7" y2="112.9" stroke="#444" stroke-width="0.9" />
<line x1="29.5" y1="108" x2="33.7" y2="108" stroke="#444" stroke-width="0.9" />
<line x1="29.5" y1="103.1" x2="33.7" y2="103.1" stroke="#444" stroke-width="0.9" />
<line x1="29.5" y1="98.2" x2="33.7" y2="98.2" stroke="#444" stroke-width="0.9" />
<line x1="29.5" y1="93.3" x2="37.5" y2="93.3" stroke="#444" stroke-width="0.9" />
<line x1="29.5" y1="88.4" x2="33.7" y2="88.4" stroke="#444" stroke-width="0.9" />
<line x1="29.5" y1="83.5" x2="33.7" y2="83.5" stroke="#444" stroke-width="0.9" />
<line x1="29.5" y1="78.6" x2="33.7" y2="78.6" stroke="#444" stroke-width="0.9" />
<line x1="29.5" y1="73.7" x2="33.7" y2="73.7" stroke="#444" stroke-width="0.9" />
<line x1="29.5" y1="68.8" x2="37.5" y2="68.8" stroke="#444" stroke-width="0.9" />
<line x1="29.5" y1="63.9" x2="33.7" y2="63.9" stroke="#444" stroke-width="0.9" />
<line x1="29.5" y1="59" x2="33.7" y2="59" stroke="#444" stroke-width="0.9" />
<line x1="29.5" y1="54.1" x2="33.7" y2="54.1" stroke="#444" stroke-width="0.9" />
<line x1="29.5" y1="49.2" x2="33.7" y2="49.2" stroke="#444" stroke-width="0.9" />
<line x1="29.5" y1="44.3" x2="37.5" y2="44.3" stroke="#444" stroke-width="0.9" />
<line x1="29.5" y1="39.4" x2="33.7" y2="39.4" stroke="#444" stroke-width="0.9" />
<line x1="29.5" y1="34.5" x2="33.7" y2="34.5" stroke="#444" stroke-width="0.9" />
<line x1="29.5" y1="29.6" x2="33.7" y2="29.6" stroke="#444" stroke-width="0.9" />
<line x1="29.5" y1="24.7" x2="33.7" y2="24.7" stroke="#444" stroke-width="0.9" />
<line x1="29.5" y1="19.8" x2="37.5" y2="19.8" stroke="#444" stroke-width="0.9" />
<line x1="29.5" y1="14.9" x2="33.7" y2="14.9" stroke="#444" stroke-width="0.9" />
<line x1="29.5" y1="10" x2="33.7" y2="10" stroke="#444" stroke-width="0.9" />
<line x1="29.5" y1="5.1" x2="33.7" y2="5.1" stroke="#444" stroke-width="0.9" />
<text transform="translate(28.3,194.4) scale(1,1.08)" font-size="8.6" text-anchor="end" style="stroke-width:0.12px">0</text>
<text transform="translate(28.3,169.9) scale(1,1.08)" font-size="8.6" text-anchor="end" style="stroke-width:0.12px">0.1</text>
<text transform="translate(28.3,145.4) scale(1,1.08)" font-size="8.6" text-anchor="end" style="stroke-width:0.12px">0.2</text>
<text transform="translate(28.3,120.9) scale(1,1.08)" font-size="8.6" text-anchor="end" style="stroke-width:0.12px">0.3</text>
<text transform="translate(28.3,96.4) scale(1,1.08)" font-size="8.6" text-anchor="end" style="stroke-width:0.12px">0.4</text>
<text transform="translate(28.3,71.9) scale(1,1.08)" font-size="8.6" text-anchor="end" style="stroke-width:0.12px">0.5</text>
<text transform="translate(28.3,47.4) scale(1,1.08)" font-size="8.6" text-anchor="end" style="stroke-width:0.12px">0.6</text>
<text transform="translate(28.3,22.9) scale(1,1.08)" font-size="8.6" text-anchor="end" style="stroke-width:0.12px">0.7</text>
<line x1="29.5" y1="210.5" x2="29.5" y2="205.2" stroke="#444" stroke-width="0.9" />
<line x1="35.05" y1="210.5" x2="35.05" y2="208.2" stroke="#444" stroke-width="0.9" />
<line x1="40.6" y1="210.5" x2="40.6" y2="208.2" stroke="#444" stroke-width="0.9" />
<line x1="46.15" y1="210.5" x2="46.15" y2="208.2" stroke="#444" stroke-width="0.9" />
<line x1="51.7" y1="210.5" x2="51.7" y2="208.2" stroke="#444" stroke-width="0.9" />
<line x1="57.25" y1="210.5" x2="57.25" y2="205.2" stroke="#444" stroke-width="0.9" />
<line x1="62.8" y1="210.5" x2="62.8" y2="208.2" stroke="#444" stroke-width="0.9" />
<line x1="68.35" y1="210.5" x2="68.35" y2="208.2" stroke="#444" stroke-width="0.9" />
<line x1="73.9" y1="210.5" x2="73.9" y2="208.2" stroke="#444" stroke-width="0.9" />
<line x1="79.45" y1="210.5" x2="79.45" y2="208.2" stroke="#444" stroke-width="0.9" />
<line x1="85" y1="210.5" x2="85" y2="205.2" stroke="#444" stroke-width="0.9" />
<line x1="90.55" y1="210.5" x2="90.55" y2="208.2" stroke="#444" stroke-width="0.9" />
<line x1="96.1" y1="210.5" x2="96.1" y2="208.2" stroke="#444" stroke-width="0.9" />
<line x1="101.65" y1="210.5" x2="101.65" y2="208.2" stroke="#444" stroke-width="0.9" />
<line x1="107.2" y1="210.5" x2="107.2" y2="208.2" stroke="#444" stroke-width="0.9" />
<line x1="112.75" y1="210.5" x2="112.75" y2="205.2" stroke="#444" stroke-width="0.9" />
<line x1="118.3" y1="210.5" x2="118.3" y2="208.2" stroke="#444" stroke-width="0.9" />
<line x1="123.85" y1="210.5" x2="123.85" y2="208.2" stroke="#444" stroke-width="0.9" />
<line x1="129.4" y1="210.5" x2="129.4" y2="208.2" stroke="#444" stroke-width="0.9" />
<line x1="134.95" y1="210.5" x2="134.95" y2="208.2" stroke="#444" stroke-width="0.9" />
<line x1="140.5" y1="210.5" x2="140.5" y2="205.2" stroke="#444" stroke-width="0.9" />
<line x1="146.05" y1="210.5" x2="146.05" y2="208.2" stroke="#444" stroke-width="0.9" />
<line x1="151.6" y1="210.5" x2="151.6" y2="208.2" stroke="#444" stroke-width="0.9" />
<line x1="157.15" y1="210.5" x2="157.15" y2="208.2" stroke="#444" stroke-width="0.9" />
<line x1="162.7" y1="210.5" x2="162.7" y2="208.2" stroke="#444" stroke-width="0.9" />
<line x1="168.25" y1="210.5" x2="168.25" y2="205.2" stroke="#444" stroke-width="0.9" />
<line x1="173.8" y1="210.5" x2="173.8" y2="208.2" stroke="#444" stroke-width="0.9" />
<line x1="179.35" y1="210.5" x2="179.35" y2="208.2" stroke="#444" stroke-width="0.9" />
<line x1="184.9" y1="210.5" x2="184.9" y2="208.2" stroke="#444" stroke-width="0.9" />
<line x1="190.45" y1="210.5" x2="190.45" y2="208.2" stroke="#444" stroke-width="0.9" />
<line x1="196" y1="210.5" x2="196" y2="205.2" stroke="#444" stroke-width="0.9" />
<line x1="201.55" y1="210.5" x2="201.55" y2="208.2" stroke="#444" stroke-width="0.9" />
<line x1="207.1" y1="210.5" x2="207.1" y2="208.2" stroke="#444" stroke-width="0.9" />
<line x1="212.65" y1="210.5" x2="212.65" y2="208.2" stroke="#444" stroke-width="0.9" />
<line x1="218.2" y1="210.5" x2="218.2" y2="208.2" stroke="#444" stroke-width="0.9" />
<line x1="223.75" y1="210.5" x2="223.75" y2="205.2" stroke="#444" stroke-width="0.9" />
<line x1="229.3" y1="210.5" x2="229.3" y2="208.2" stroke="#444" stroke-width="0.9" />
<line x1="234.85" y1="210.5" x2="234.85" y2="208.2" stroke="#444" stroke-width="0.9" />
<line x1="240.4" y1="210.5" x2="240.4" y2="208.2" stroke="#444" stroke-width="0.9" />
<line x1="245.95" y1="210.5" x2="245.95" y2="208.2" stroke="#444" stroke-width="0.9" />
<line x1="251.5" y1="210.5" x2="251.5" y2="205.2" stroke="#444" stroke-width="0.9" />
<line x1="257.05" y1="210.5" x2="257.05" y2="208.2" stroke="#444" stroke-width="0.9" />
<line x1="262.6" y1="210.5" x2="262.6" y2="208.2" stroke="#444" stroke-width="0.9" />
<line x1="268.15" y1="210.5" x2="268.15" y2="208.2" stroke="#444" stroke-width="0.9" />
<line x1="273.7" y1="210.5" x2="273.7" y2="208.2" stroke="#444" stroke-width="0.9" />
<line x1="279.25" y1="210.5" x2="279.25" y2="205.2" stroke="#444" stroke-width="0.9" />
<text x="56.65" y="218.1" font-size="7.8" text-anchor="middle" font-weight="normal" font-style="normal" fill="#000" >0.5</text>
<text x="84.4" y="218.1" font-size="7.8" text-anchor="middle" font-weight="normal" font-style="normal" fill="#000" >1</text>
<text x="112.15" y="218.1" font-size="7.8" text-anchor="middle" font-weight="normal" font-style="normal" fill="#000" >1.5</text>
<text x="139.9" y="218.1" font-size="7.8" text-anchor="middle" font-weight="normal" font-style="normal" fill="#000" >2</text>
<text x="167.65" y="218.1" font-size="7.8" text-anchor="middle" font-weight="normal" font-style="normal" fill="#000" >2.5</text>
<text x="195.4" y="218.1" font-size="7.8" text-anchor="middle" font-weight="normal" font-style="normal" fill="#000" >3</text>
<text x="223.15" y="218.1" font-size="7.8" text-anchor="middle" font-weight="normal" font-style="normal" fill="#000" >3.5</text>
<text x="250.9" y="218.1" font-size="7.8" text-anchor="middle" font-weight="normal" font-style="normal" fill="#000" >4</text>
<text x="278.65" y="218.1" font-size="7.8" text-anchor="middle" font-weight="normal" font-style="normal" fill="#000" >4.5</text>
<text x="29.6" y="218.6" font-size="8.6" text-anchor="middle" font-weight="normal" font-style="normal" fill="#000" >0</text>
<line x1="29.5" y1="280.14" x2="32.5" y2="280.14" stroke="#555" stroke-width="0.8" />
<line x1="29.5" y1="278.62" x2="32.5" y2="278.62" stroke="#555" stroke-width="0.8" />
<line x1="29.5" y1="277.1" x2="35.8" y2="277.1" stroke="#555" stroke-width="0.8" />
<line x1="29.5" y1="275.58" x2="32.5" y2="275.58" stroke="#555" stroke-width="0.8" />
<line x1="29.5" y1="274.06" x2="32.5" y2="274.06" stroke="#555" stroke-width="0.8" />
<line x1="29.5" y1="272.54" x2="32.5" y2="272.54" stroke="#555" stroke-width="0.8" />
<line x1="29.5" y1="271.02" x2="32.5" y2="271.02" stroke="#555" stroke-width="0.8" />
<line x1="29.5" y1="269.5" x2="35.8" y2="269.5" stroke="#555" stroke-width="0.8" />
<line x1="29.5" y1="267.98" x2="32.5" y2="267.98" stroke="#555" stroke-width="0.8" />
<line x1="29.5" y1="266.46" x2="32.5" y2="266.46" stroke="#555" stroke-width="0.8" />
<line x1="29.5" y1="264.94" x2="32.5" y2="264.94" stroke="#555" stroke-width="0.8" />
<line x1="29.5" y1="263.42" x2="32.5" y2="263.42" stroke="#555" stroke-width="0.8" />
<line x1="29.5" y1="261.9" x2="35.8" y2="261.9" stroke="#555" stroke-width="0.8" />
<line x1="29.5" y1="260.38" x2="32.5" y2="260.38" stroke="#555" stroke-width="0.8" />
<line x1="29.5" y1="258.86" x2="32.5" y2="258.86" stroke="#555" stroke-width="0.8" />
<line x1="29.5" y1="257.34" x2="32.5" y2="257.34" stroke="#555" stroke-width="0.8" />
<line x1="29.5" y1="255.82" x2="32.5" y2="255.82" stroke="#555" stroke-width="0.8" />
<line x1="29.5" y1="254.3" x2="35.8" y2="254.3" stroke="#555" stroke-width="0.8" />
<line x1="29.5" y1="252.78" x2="32.5" y2="252.78" stroke="#555" stroke-width="0.8" />
<line x1="29.5" y1="251.26" x2="32.5" y2="251.26" stroke="#555" stroke-width="0.8" />
<line x1="29.5" y1="249.74" x2="32.5" y2="249.74" stroke="#555" stroke-width="0.8" />
<line x1="29.5" y1="248.22" x2="32.5" y2="248.22" stroke="#555" stroke-width="0.8" />
<line x1="29.5" y1="246.7" x2="35.8" y2="246.7" stroke="#555" stroke-width="0.8" />
<line x1="29.5" y1="245.18" x2="32.5" y2="245.18" stroke="#555" stroke-width="0.8" />
<line x1="29.5" y1="243.66" x2="32.5" y2="243.66" stroke="#555" stroke-width="0.8" />
<line x1="29.5" y1="242.14" x2="32.5" y2="242.14" stroke="#555" stroke-width="0.8" />
<line x1="29.5" y1="240.62" x2="32.5" y2="240.62" stroke="#555" stroke-width="0.8" />
<line x1="29.5" y1="239.1" x2="35.8" y2="239.1" stroke="#555" stroke-width="0.8" />
<line x1="29.5" y1="237.58" x2="32.5" y2="237.58" stroke="#555" stroke-width="0.8" />
<line x1="29.5" y1="236.06" x2="32.5" y2="236.06" stroke="#555" stroke-width="0.8" />
<line x1="29.5" y1="234.54" x2="32.5" y2="234.54" stroke="#555" stroke-width="0.8" />
<line x1="29.5" y1="233.02" x2="32.5" y2="233.02" stroke="#555" stroke-width="0.8" />
<line x1="29.5" y1="231.5" x2="35.8" y2="231.5" stroke="#555" stroke-width="0.8" />
<line x1="29.5" y1="229.98" x2="32.5" y2="229.98" stroke="#555" stroke-width="0.8" />
<line x1="29.5" y1="228.46" x2="32.5" y2="228.46" stroke="#555" stroke-width="0.8" />
<line x1="29.5" y1="226.94" x2="32.5" y2="226.94" stroke="#555" stroke-width="0.8" />
<line x1="29.5" y1="225.42" x2="32.5" y2="225.42" stroke="#555" stroke-width="0.8" />
<line x1="29.5" y1="223.9" x2="35.8" y2="223.9" stroke="#555" stroke-width="0.8" />
<line x1="29.5" y1="222.38" x2="32.5" y2="222.38" stroke="#555" stroke-width="0.8" />
<line x1="29.5" y1="220.86" x2="32.5" y2="220.86" stroke="#555" stroke-width="0.8" />
<line x1="29.5" y1="219.34" x2="32.5" y2="219.34" stroke="#555" stroke-width="0.8" />
<line x1="29.5" y1="217.82" x2="32.5" y2="217.82" stroke="#555" stroke-width="0.8" />
<line x1="29.5" y1="216.3" x2="35.8" y2="216.3" stroke="#555" stroke-width="0.8" />
<line x1="29.5" y1="214.78" x2="32.5" y2="214.78" stroke="#555" stroke-width="0.8" />
<line x1="29.5" y1="213.26" x2="32.5" y2="213.26" stroke="#555" stroke-width="0.8" />
<line x1="29.5" y1="211.74" x2="32.5" y2="211.74" stroke="#555" stroke-width="0.8" />
<text transform="translate(28.2,219.4) scale(1,1.13)" font-size="8.4" text-anchor="end">1.2</text>
<text transform="translate(28.2,227) scale(1,1.13)" font-size="8.4" text-anchor="end">1.15</text>
<text transform="translate(28.2,234.6) scale(1,1.13)" font-size="8.4" text-anchor="end">1.1</text>
<text transform="translate(28.2,242.2) scale(1,1.13)" font-size="8.4" text-anchor="end">1.05</text>
<text transform="translate(28.2,249.8) scale(1,1.13)" font-size="8.4" text-anchor="end">1</text>
<text transform="translate(28.2,257.4) scale(1,1.13)" font-size="8.4" text-anchor="end">0.95</text>
<text transform="translate(28.2,265) scale(1,1.13)" font-size="8.4" text-anchor="end">0.9</text>
<text transform="translate(28.2,272.6) scale(1,1.13)" font-size="8.4" text-anchor="end">0.85</text>
<text transform="translate(28.2,280.2) scale(1,1.13)" font-size="8.4" text-anchor="end">0.8</text>
<line x1="29.5" y1="281.1" x2="29.5" y2="278.7" stroke="#444" stroke-width="0.9" />
<line x1="35.05" y1="281.1" x2="35.05" y2="279.8" stroke="#444" stroke-width="0.9" />
<line x1="40.6" y1="281.1" x2="40.6" y2="279.8" stroke="#444" stroke-width="0.9" />
<line x1="46.15" y1="281.1" x2="46.15" y2="279.8" stroke="#444" stroke-width="0.9" />
<line x1="51.7" y1="281.1" x2="51.7" y2="279.8" stroke="#444" stroke-width="0.9" />
<line x1="57.25" y1="281.1" x2="57.25" y2="278.7" stroke="#444" stroke-width="0.9" />
<line x1="62.8" y1="281.1" x2="62.8" y2="279.8" stroke="#444" stroke-width="0.9" />
<line x1="68.35" y1="281.1" x2="68.35" y2="279.8" stroke="#444" stroke-width="0.9" />
<line x1="73.9" y1="281.1" x2="73.9" y2="279.8" stroke="#444" stroke-width="0.9" />
<line x1="79.45" y1="281.1" x2="79.45" y2="279.8" stroke="#444" stroke-width="0.9" />
<line x1="85" y1="281.1" x2="85" y2="278.7" stroke="#444" stroke-width="0.9" />
<line x1="90.55" y1="281.1" x2="90.55" y2="279.8" stroke="#444" stroke-width="0.9" />
<line x1="96.1" y1="281.1" x2="96.1" y2="279.8" stroke="#444" stroke-width="0.9" />
<line x1="101.65" y1="281.1" x2="101.65" y2="279.8" stroke="#444" stroke-width="0.9" />
<line x1="107.2" y1="281.1" x2="107.2" y2="279.8" stroke="#444" stroke-width="0.9" />
<line x1="112.75" y1="281.1" x2="112.75" y2="278.7" stroke="#444" stroke-width="0.9" />
<line x1="118.3" y1="281.1" x2="118.3" y2="279.8" stroke="#444" stroke-width="0.9" />
<line x1="123.85" y1="281.1" x2="123.85" y2="279.8" stroke="#444" stroke-width="0.9" />
<line x1="129.4" y1="281.1" x2="129.4" y2="279.8" stroke="#444" stroke-width="0.9" />
<line x1="134.95" y1="281.1" x2="134.95" y2="279.8" stroke="#444" stroke-width="0.9" />
<line x1="140.5" y1="281.1" x2="140.5" y2="278.7" stroke="#444" stroke-width="0.9" />
<line x1="146.05" y1="281.1" x2="146.05" y2="279.8" stroke="#444" stroke-width="0.9" />
<line x1="151.6" y1="281.1" x2="151.6" y2="279.8" stroke="#444" stroke-width="0.9" />
<line x1="157.15" y1="281.1" x2="157.15" y2="279.8" stroke="#444" stroke-width="0.9" />
<line x1="162.7" y1="281.1" x2="162.7" y2="279.8" stroke="#444" stroke-width="0.9" />
<line x1="168.25" y1="281.1" x2="168.25" y2="278.7" stroke="#444" stroke-width="0.9" />
<line x1="173.8" y1="281.1" x2="173.8" y2="279.8" stroke="#444" stroke-width="0.9" />
<line x1="179.35" y1="281.1" x2="179.35" y2="279.8" stroke="#444" stroke-width="0.9" />
<line x1="184.9" y1="281.1" x2="184.9" y2="279.8" stroke="#444" stroke-width="0.9" />
<line x1="190.45" y1="281.1" x2="190.45" y2="279.8" stroke="#444" stroke-width="0.9" />
<line x1="196" y1="281.1" x2="196" y2="278.7" stroke="#444" stroke-width="0.9" />
<line x1="201.55" y1="281.1" x2="201.55" y2="279.8" stroke="#444" stroke-width="0.9" />
<line x1="207.1" y1="281.1" x2="207.1" y2="279.8" stroke="#444" stroke-width="0.9" />
<line x1="212.65" y1="281.1" x2="212.65" y2="279.8" stroke="#444" stroke-width="0.9" />
<line x1="218.2" y1="281.1" x2="218.2" y2="279.8" stroke="#444" stroke-width="0.9" />
<line x1="223.75" y1="281.1" x2="223.75" y2="278.7" stroke="#444" stroke-width="0.9" />
<line x1="229.3" y1="281.1" x2="229.3" y2="279.8" stroke="#444" stroke-width="0.9" />
<line x1="234.85" y1="281.1" x2="234.85" y2="279.8" stroke="#444" stroke-width="0.9" />
<line x1="240.4" y1="281.1" x2="240.4" y2="279.8" stroke="#444" stroke-width="0.9" />
<line x1="245.95" y1="281.1" x2="245.95" y2="279.8" stroke="#444" stroke-width="0.9" />
<line x1="251.5" y1="281.1" x2="251.5" y2="278.7" stroke="#444" stroke-width="0.9" />
<line x1="257.05" y1="281.1" x2="257.05" y2="279.8" stroke="#444" stroke-width="0.9" />
<line x1="262.6" y1="281.1" x2="262.6" y2="279.8" stroke="#444" stroke-width="0.9" />
<line x1="268.15" y1="281.1" x2="268.15" y2="279.8" stroke="#444" stroke-width="0.9" />
<line x1="273.7" y1="281.1" x2="273.7" y2="279.8" stroke="#444" stroke-width="0.9" />
<line x1="279.25" y1="281.1" x2="279.25" y2="278.7" stroke="#444" stroke-width="0.9" />
<text x="29.1" y="290.3" font-size="10.3" text-anchor="middle" font-weight="normal" font-style="normal" fill="#000" >0</text>
<text x="56.85" y="290.3" font-size="10.3" text-anchor="middle" font-weight="normal" font-style="normal" fill="#000" >0.5</text>
<text x="84.6" y="290.3" font-size="10.3" text-anchor="middle" font-weight="normal" font-style="normal" fill="#000" >1</text>
<text x="112.35" y="290.3" font-size="10.3" text-anchor="middle" font-weight="normal" font-style="normal" fill="#000" >1.5</text>
<text x="140.1" y="290.3" font-size="10.3" text-anchor="middle" font-weight="normal" font-style="normal" fill="#000" >2</text>
<text x="167.85" y="290.3" font-size="10.3" text-anchor="middle" font-weight="normal" font-style="normal" fill="#000" >2.5</text>
<text x="195.6" y="290.3" font-size="10.3" text-anchor="middle" font-weight="normal" font-style="normal" fill="#000" >3</text>
<text x="223.35" y="290.3" font-size="10.3" text-anchor="middle" font-weight="normal" font-style="normal" fill="#000" >3.5</text>
<text x="251.1" y="290.3" font-size="10.3" text-anchor="middle" font-weight="normal" font-style="normal" fill="#000" >4</text>
<text x="278.85" y="290.3" font-size="10.3" text-anchor="middle" font-weight="normal" font-style="normal" fill="#000" >4.5</text>
<text x="264.8" y="300.5" font-size="12.3" text-anchor="start" font-weight="normal" font-style="normal" fill="#000" >y</text>
<text x="271.3" y="306.6" font-size="7.4" text-anchor="start" font-weight="normal" font-style="normal" fill="#000" >W</text>
<g transform="translate(8.3,15.8) rotate(-90)"><text x="0" y="0" font-size="11.2">A</text></g>
<g transform="translate(11,8.3) rotate(-90)"><text x="0" y="0" font-size="7.2">y</text></g>
<g transform="translate(15.2,4.9) rotate(-90)"><text x="0" y="0" font-size="5.4">W</text></g>
<g transform="translate(10.2,279.4) rotate(-90) scale(0.985,1)"><text x="0" y="0" font-size="10.7">Ratio to NNLO</text></g>
<text x="47" y="20" font-size="8.5" font-weight="bold" style="stroke-width:0.12px"><tspan font-style="italic">pp</tspan> collisions</text>
<circle cx="106.1" cy="16.8" r="3.4" fill="#3a3a3a"/><circle cx="106.3" cy="16.6" r="1.3" fill="#888"/>
<line x1="115.4" y1="15" x2="115.9" y2="20.6" stroke="#555" stroke-width="1.1" />
<line x1="117" y1="13.3" x2="123.5" y2="13.3" stroke="#ccc" stroke-width="0.6" />
<text x="118.4" y="20" font-size="8.5" text-anchor="start" font-weight="bold" font-style="italic" fill="#000" style="stroke-width:0.08px">s</text>
<text x="125.9" y="20" font-size="8.5" text-anchor="start" font-weight="bold" font-style="normal" fill="#000" style="stroke-width:0.12px">= 14 TeV</text>
<text x="51.8" y="38.5" font-size="7.2" text-anchor="start" font-weight="bold" font-style="normal" fill="#000" style="stroke-width:0.08px">NNPDF3.1 LUXqed PDF (NNLO)</text>
<rect x="56.5" y="54" width="11.5" height="11" fill="url(#hr)" />
<line x1="56.5" y1="59.5" x2="68" y2="59.5" stroke="#f55" stroke-width="0.8" />
<rect x="59.9" y="57.1" width="5" height="4.8" fill="#f00" />
<rect x="56.5" y="69.6" width="11.5" height="11" fill="url(#hb)" />
<line x1="56.5" y1="75.8" x2="68" y2="75.8" stroke="#55f" stroke-width="0.8" />
<polygon points="59,78.88 65.4,78.88 62.2,73.12" fill="#00f"/>
<rect x="56.5" y="85.6" width="11.5" height="10.2" fill="#e8f7e8" />
<line x1="56.5" y1="90.6" x2="68" y2="90.6" stroke="#3c3" stroke-width="0.9" />
<polygon points="59.2,88.2 65.2,88.2 62.2,93.6" fill="#0b0"/>
<text x="70" y="62.7" font-size="7.8" text-anchor="start" font-weight="normal" font-style="normal" fill="#000" style="stroke-width:0.15px">NNLO QCD</text>
<text x="70" y="78.4" font-size="7.8" text-anchor="start" font-weight="normal" font-style="normal" fill="#000" style="stroke-width:0.15px">NNLO QCD+NLO EW</text>
<text x="70" y="93.9" font-size="7.8" text-anchor="start" font-weight="normal" font-style="normal" fill="#000" style="stroke-width:0.15px">NNLO QCD×NLO EW</text>
</g>
</svg></body></html>
